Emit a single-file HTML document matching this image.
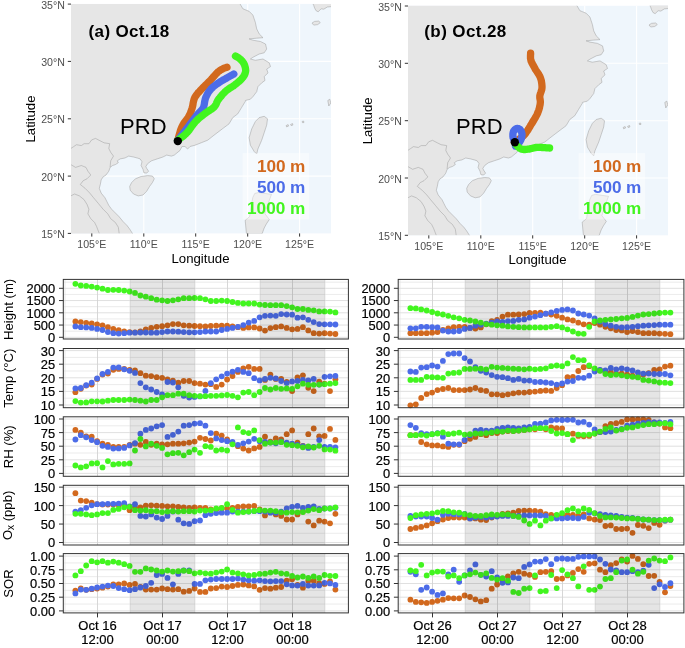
<!DOCTYPE html>
<html><head><meta charset="utf-8"><title>Figure</title>
<style>html,body{margin:0;padding:0;background:#fff}svg{display:block}</style></head>
<body>
<svg width="685" height="648" viewBox="0 0 685 648" font-family="'Liberation Sans', Arial, sans-serif">
<rect width="685" height="648" fill="#fff"/>
<g transform="translate(0.0,0.0)">
<clipPath id="ca"><rect x="71.0" y="3.9" width="260.0" height="229.5"/></clipPath>
<rect x="71.0" y="3.9" width="260.0" height="229.5" fill="#EFF6FC"/>
<g clip-path="url(#ca)">
<line x1="91.8" x2="91.8" y1="3.9" y2="233.4" stroke="#fff" stroke-width="1.1"/>
<line x1="143.8" x2="143.8" y1="3.9" y2="233.4" stroke="#fff" stroke-width="1.1"/>
<line x1="195.7" x2="195.7" y1="3.9" y2="233.4" stroke="#fff" stroke-width="1.1"/>
<line x1="247.7" x2="247.7" y1="3.9" y2="233.4" stroke="#fff" stroke-width="1.1"/>
<line x1="299.6" x2="299.6" y1="3.9" y2="233.4" stroke="#fff" stroke-width="1.1"/>
<line x1="71.0" x2="331.0" y1="176.1" y2="176.1" stroke="#fff" stroke-width="1.1"/>
<line x1="71.0" x2="331.0" y1="118.8" y2="118.8" stroke="#fff" stroke-width="1.1"/>
<line x1="71.0" x2="331.0" y1="61.4" y2="61.4" stroke="#fff" stroke-width="1.1"/>
<polygon points="66.0,-1.1 239.8,-1.1 239.8,3.5 242.9,8.8 249.1,11.3 252.9,15.1 255.4,22.6 256.7,28.9 259.2,33.9 263.0,37.7 256.7,38.2 249.1,38.9 252.9,40.2 260.5,41.5 265.5,44.0 266.7,49.0 264.2,52.8 259.2,54.0 252.9,57.3 250.4,59.0 255.4,60.3 263.0,59.0 269.2,62.8 270.5,66.6 266.7,69.1 268.0,72.9 264.2,76.6 265.0,80.4 261.7,82.9 257.9,86.7 256.7,91.7 252.9,96.7 250.4,99.2 245.4,100.5 245.4,101.3 241.6,107.5 237.8,113.8 232.8,117.6 229.0,123.9 224.0,127.6 219.0,131.4 214.0,135.2 207.7,140.2 201.4,142.7 195.1,145.2 190.1,146.5 187.6,149.0 185.0,146.5 181.9,146.6 180.0,150.4 174.3,155.1 171.4,156.1 166.7,155.1 162.9,157.0 157.2,158.9 151.5,160.8 147.7,163.6 145.8,166.5 146.7,168.4 148.6,171.2 146.7,173.1 143.9,172.8 143.0,169.3 141.1,165.5 142.0,161.7 140.1,158.9 137.3,158.0 133.5,157.0 128.7,156.1 124.9,158.0 120.2,158.9 117.3,160.8 118.3,162.7 115.4,164.6 112.6,165.5 110.1,167.4 108.8,171.2 106.0,175.0 103.1,176.9 101.2,179.8 100.3,184.5 99.3,188.3 101.2,193.1 105.0,197.8 106.9,201.6 108.8,205.4 111.6,209.2 115.4,213.0 119.2,216.8 123.0,221.5 126.8,225.3 129.7,229.1 132.5,233.5 132.5,238.4 66.0,238.4" fill="#E6E6E6" stroke="#9c9c9c" stroke-width="0.5" stroke-linejoin="round"/>
<polygon points="131.6,182.6 135.4,178.8 141.1,176.5 147.7,175.6 152.4,176.0 154.3,178.8 152.4,182.6 149.6,186.4 146.7,191.2 143.0,195.0 138.2,195.9 133.5,194.0 130.2,190.2 129.7,186.4" fill="#E6E6E6" stroke="#9c9c9c" stroke-width="0.5" stroke-linejoin="round"/>
<polygon points="259.2,117.6 264.2,116.3 267.5,118.8 266.7,125.1 264.2,132.7 261.7,140.2 257.9,149.0 256.7,154.0 254.2,151.5 250.4,145.2 249.1,137.7 251.7,128.9 255.4,121.4" fill="#E6E6E6" stroke="#9c9c9c" stroke-width="0.5" stroke-linejoin="round"/>
<polygon points="254.7,193.5 258.4,192.5 271.5,194.4 270.0,198.4 267.1,206.4 264.9,213.7 269.3,219.5 266.4,223.9 264.2,228.0 262.0,234.0 246.5,234.0 245.9,228.0 245.2,220.3 249.6,216.6 251.1,206.4 252.8,197.6" fill="#E6E6E6" stroke="#9c9c9c" stroke-width="0.5" stroke-linejoin="round"/>
<polygon points="312.0,23.1 314.5,21.4 318.7,21.1 320.3,22.6 317.7,24.6 313.7,25.1" fill="#E6E6E6" stroke="#9c9c9c" stroke-width="0.5" stroke-linejoin="round"/>
<polygon points="312.8,3.5 331.5,3.5 331.5,6.6 327.3,7.0 323.8,9.2 321.2,8.8 318.1,11.8 315.9,10.5 314.6,7.9 313.7,5.3" fill="#E6E6E6" stroke="#9c9c9c" stroke-width="0.5" stroke-linejoin="round"/>
<polygon points="327.8,100.5 329.8,99.2 330.8,103.0 328.8,106.0" fill="#E6E6E6" stroke="#9c9c9c" stroke-width="0.5" stroke-linejoin="round"/>
<polygon points="286.1,125.6 288.1,124.6 288.6,126.1 286.6,126.9" fill="#E6E6E6" stroke="#9c9c9c" stroke-width="0.5" stroke-linejoin="round"/>
<polygon points="290.6,124.4 292.6,123.6 292.9,125.1 291.1,125.6" fill="#E6E6E6" stroke="#9c9c9c" stroke-width="0.5" stroke-linejoin="round"/>
<polygon points="302.2,121.4 303.7,121.1 303.9,122.6 302.4,122.6" fill="#E6E6E6" stroke="#9c9c9c" stroke-width="0.5" stroke-linejoin="round"/>
<polyline points="110.1,167.1 110.7,160.8 113.5,156.1 110.7,152.3 108.8,148.5 109.7,143.7 104.1,142.8 100.3,140.9 95.5,138.4 91.7,139.9 88.9,143.7 84.1,143.7 81.3,145.6 76.5,144.7 73.7,146.6 70.8,148.5" fill="none" stroke="#9c9c9c" stroke-width="0.5"/>
<polyline points="70.8,164.6 75.6,167.4 81.3,165.5 86.0,167.4 87.9,171.2 90.8,175.0 87.0,178.8 83.2,180.7 80.3,184.5 85.1,188.3 89.8,193.1 93.6,197.8 98.4,203.5 103.1,209.2 107.8,213.9 110.7,218.7 115.4,222.5 118.3,227.2 119.2,233.5" fill="none" stroke="#9c9c9c" stroke-width="0.5"/>
<polyline points="70.8,195.9 74.6,194.0 79.4,195.9 84.1,199.7 87.0,204.4 88.9,209.2 87.9,213.9 90.8,218.7 94.6,222.5 96.5,226.3 99.3,233.5" fill="none" stroke="#9c9c9c" stroke-width="0.5"/>
<polyline points="177.7,140.5 178.0,139.4 178.4,137.9 178.9,136.1 179.4,134.2 180.0,132.2 180.6,130.1 181.3,128.3 182.0,126.6 182.8,125.1 183.6,123.7 184.5,122.4 185.5,121.2 186.4,119.9 187.3,118.7 188.1,117.6 188.8,116.4 189.4,115.3 189.9,114.2 190.4,113.2 190.8,112.2 191.1,111.1 191.5,110.1 191.8,109.0 192.2,107.9 192.5,106.7 192.8,105.4 193.0,104.1 193.2,102.8 193.5,101.5 193.8,100.2 194.2,98.9 194.7,97.7 195.3,96.6 196.1,95.5 196.9,94.4 197.7,93.3 198.6,92.3 199.6,91.3 200.5,90.3 201.5,89.2 202.5,88.1 203.5,87.1 204.6,86.0 205.7,84.9 206.8,83.9 207.9,82.8 209.0,81.8 210.0,80.7 211.0,79.6 212.0,78.5 213.0,77.3 214.0,76.2 215.0,75.1 215.9,74.0 216.8,73.1 217.6,72.3 218.4,71.6 219.1,71.1 219.7,70.6 220.4,70.2 221.0,69.8 221.5,69.5 222.1,69.2 222.7,68.9 223.3,68.6 223.9,68.3 224.6,68.1 225.2,67.8 225.7,67.6 226.2,67.5 226.7,67.3 227.0,67.2" fill="none" stroke="#D2691E" stroke-width="7.3" stroke-linecap="round" stroke-linejoin="round"/>
<polyline points="177.7,140.5 178.4,139.6 179.3,138.3 180.5,136.9 181.7,135.2 183.0,133.5 184.4,131.7 185.7,130.0 187.0,128.3 188.3,126.6 189.6,124.8 191.0,123.0 192.4,121.2 193.7,119.4 195.0,117.7 196.2,116.1 197.3,114.7 198.3,113.5 199.2,112.6 200.0,111.8 200.7,111.1 201.4,110.4 202.1,109.7 202.7,108.9 203.2,107.9 203.7,106.8 204.0,105.5 204.3,104.2 204.5,102.9 204.7,101.5 205.0,100.2 205.3,98.9 205.7,97.7 206.2,96.5 206.7,95.4 207.3,94.3 207.9,93.2 208.5,92.2 209.2,91.2 210.0,90.2 210.8,89.2 211.7,88.3 212.7,87.3 213.7,86.4 214.8,85.6 216.0,84.7 217.1,83.9 218.2,83.2 219.3,82.4 220.4,81.7 221.5,81.0 222.6,80.3 223.7,79.7 224.8,79.1 225.9,78.5 226.9,77.9 227.8,77.4 228.7,76.9 229.6,76.4 230.5,75.9 231.3,75.4 232.1,75.0 232.8,74.6 233.4,74.3 233.8,74.0" fill="none" stroke="#4C6CE8" stroke-width="7.3" stroke-linecap="round" stroke-linejoin="round"/>
<polyline points="177.7,140.5 178.4,139.9 179.4,139.1 180.6,138.2 181.9,137.2 183.2,136.1 184.6,134.9 185.9,133.7 187.1,132.5 188.2,131.3 189.3,129.9 190.3,128.5 191.3,127.0 192.3,125.6 193.4,124.1 194.5,122.8 195.6,121.5 196.8,120.3 198.0,119.1 199.3,118.0 200.7,116.9 202.0,115.9 203.2,114.9 204.5,113.9 205.7,113.0 206.9,112.1 208.0,111.4 209.2,110.6 210.3,109.9 211.4,109.3 212.4,108.6 213.3,107.8 214.2,107.0 214.9,106.1 215.5,105.2 216.0,104.3 216.4,103.4 216.8,102.4 217.3,101.4 217.8,100.4 218.5,99.4 219.3,98.4 220.1,97.3 221.1,96.2 222.0,95.0 223.0,93.9 224.1,92.9 225.1,91.8 226.1,90.9 227.1,90.0 228.2,89.3 229.3,88.5 230.3,87.8 231.4,87.2 232.5,86.5 233.6,85.8 234.6,85.0 235.6,84.2 236.7,83.4 237.7,82.5 238.7,81.7 239.7,80.8 240.6,79.9 241.5,79.1 242.2,78.2 242.9,77.4 243.5,76.5 244.0,75.7 244.5,74.9 244.9,74.0 245.2,73.2 245.4,72.3 245.6,71.4 245.7,70.5 245.6,69.5 245.5,68.5 245.3,67.5 245.0,66.5 244.7,65.5 244.4,64.6 244.0,63.8 243.6,63.0 243.1,62.3 242.6,61.6 242.0,60.9 241.4,60.3 240.8,59.7 240.3,59.2 239.7,58.7 239.1,58.2 238.5,57.8 237.9,57.4 237.3,57.1 236.8,56.8 236.3,56.5 235.8,56.3 235.5,56.1" fill="none" stroke="#42F51F" stroke-width="7.3" stroke-linecap="round" stroke-linejoin="round"/>
<circle cx="177.8" cy="141.1" r="4.2" fill="#000"/>
<rect x="242.6" y="153.1" width="66.6" height="66.4" fill="#fff" fill-opacity="0.45"/>
</g>
<line x1="67.8" x2="71.0" y1="233.4" y2="233.4" stroke="#333" stroke-width="1"/>
<text x="64.8" y="238.0" text-anchor="end" font-size="10.6" fill="#4D4D4D">15°N</text>
<line x1="67.8" x2="71.0" y1="176.1" y2="176.1" stroke="#333" stroke-width="1"/>
<text x="64.8" y="180.7" text-anchor="end" font-size="10.6" fill="#4D4D4D">20°N</text>
<line x1="67.8" x2="71.0" y1="118.8" y2="118.8" stroke="#333" stroke-width="1"/>
<text x="64.8" y="123.3" text-anchor="end" font-size="10.6" fill="#4D4D4D">25°N</text>
<line x1="67.8" x2="71.0" y1="61.4" y2="61.4" stroke="#333" stroke-width="1"/>
<text x="64.8" y="66.0" text-anchor="end" font-size="10.6" fill="#4D4D4D">30°N</text>
<line x1="67.8" x2="71.0" y1="4.1" y2="4.1" stroke="#333" stroke-width="1"/>
<text x="64.8" y="8.7" text-anchor="end" font-size="10.6" fill="#4D4D4D">35°N</text>
<line x1="91.8" x2="91.8" y1="233.4" y2="236.6" stroke="#333" stroke-width="1"/>
<text x="91.8" y="248.4" text-anchor="middle" font-size="10.6" fill="#4D4D4D">105°E</text>
<line x1="143.8" x2="143.8" y1="233.4" y2="236.6" stroke="#333" stroke-width="1"/>
<text x="143.8" y="248.4" text-anchor="middle" font-size="10.6" fill="#4D4D4D">110°E</text>
<line x1="195.7" x2="195.7" y1="233.4" y2="236.6" stroke="#333" stroke-width="1"/>
<text x="195.7" y="248.4" text-anchor="middle" font-size="10.6" fill="#4D4D4D">115°E</text>
<line x1="247.7" x2="247.7" y1="233.4" y2="236.6" stroke="#333" stroke-width="1"/>
<text x="247.7" y="248.4" text-anchor="middle" font-size="10.6" fill="#4D4D4D">120°E</text>
<line x1="299.6" x2="299.6" y1="233.4" y2="236.6" stroke="#333" stroke-width="1"/>
<text x="299.6" y="248.4" text-anchor="middle" font-size="10.6" fill="#4D4D4D">125°E</text>
<text x="200.5" y="262.9" text-anchor="middle" font-size="13.2" fill="#000">Longitude</text>
<text transform="translate(35.3,119) rotate(-90)" text-anchor="middle" font-size="13.2" fill="#000">Latitude</text>
<text x="88.6" y="36.6" font-size="17" font-weight="bold" fill="#000" textLength="80.6" lengthAdjust="spacing">(a) Oct.18</text>
<text x="120.1" y="133.8" font-size="22" fill="#000">PRD</text>
<text x="256.9" y="171.9" font-size="17.2" font-weight="bold" fill="#D2691E" textLength="48.5" lengthAdjust="spacing">100 m</text>
<text x="256.9" y="193.0" font-size="17.2" font-weight="bold" fill="#4C6CE8" textLength="48.5" lengthAdjust="spacing">500 m</text>
<text x="247.0" y="214.1" font-size="17.2" font-weight="bold" fill="#42F51F" textLength="58.4" lengthAdjust="spacing">1000 m</text>
</g>
<g transform="translate(337.0,1.9)">
<clipPath id="cb"><rect x="71.0" y="3.9" width="260.0" height="229.5"/></clipPath>
<rect x="71.0" y="3.9" width="260.0" height="229.5" fill="#EFF6FC"/>
<g clip-path="url(#cb)">
<line x1="91.8" x2="91.8" y1="3.9" y2="233.4" stroke="#fff" stroke-width="1.1"/>
<line x1="143.8" x2="143.8" y1="3.9" y2="233.4" stroke="#fff" stroke-width="1.1"/>
<line x1="195.7" x2="195.7" y1="3.9" y2="233.4" stroke="#fff" stroke-width="1.1"/>
<line x1="247.7" x2="247.7" y1="3.9" y2="233.4" stroke="#fff" stroke-width="1.1"/>
<line x1="299.6" x2="299.6" y1="3.9" y2="233.4" stroke="#fff" stroke-width="1.1"/>
<line x1="71.0" x2="331.0" y1="176.1" y2="176.1" stroke="#fff" stroke-width="1.1"/>
<line x1="71.0" x2="331.0" y1="118.8" y2="118.8" stroke="#fff" stroke-width="1.1"/>
<line x1="71.0" x2="331.0" y1="61.4" y2="61.4" stroke="#fff" stroke-width="1.1"/>
<polygon points="66.0,-1.1 239.8,-1.1 239.8,3.5 242.9,8.8 249.1,11.3 252.9,15.1 255.4,22.6 256.7,28.9 259.2,33.9 263.0,37.7 256.7,38.2 249.1,38.9 252.9,40.2 260.5,41.5 265.5,44.0 266.7,49.0 264.2,52.8 259.2,54.0 252.9,57.3 250.4,59.0 255.4,60.3 263.0,59.0 269.2,62.8 270.5,66.6 266.7,69.1 268.0,72.9 264.2,76.6 265.0,80.4 261.7,82.9 257.9,86.7 256.7,91.7 252.9,96.7 250.4,99.2 245.4,100.5 245.4,101.3 241.6,107.5 237.8,113.8 232.8,117.6 229.0,123.9 224.0,127.6 219.0,131.4 214.0,135.2 207.7,140.2 201.4,142.7 195.1,145.2 190.1,146.5 187.6,149.0 185.0,146.5 181.9,146.6 180.0,150.4 174.3,155.1 171.4,156.1 166.7,155.1 162.9,157.0 157.2,158.9 151.5,160.8 147.7,163.6 145.8,166.5 146.7,168.4 148.6,171.2 146.7,173.1 143.9,172.8 143.0,169.3 141.1,165.5 142.0,161.7 140.1,158.9 137.3,158.0 133.5,157.0 128.7,156.1 124.9,158.0 120.2,158.9 117.3,160.8 118.3,162.7 115.4,164.6 112.6,165.5 110.1,167.4 108.8,171.2 106.0,175.0 103.1,176.9 101.2,179.8 100.3,184.5 99.3,188.3 101.2,193.1 105.0,197.8 106.9,201.6 108.8,205.4 111.6,209.2 115.4,213.0 119.2,216.8 123.0,221.5 126.8,225.3 129.7,229.1 132.5,233.5 132.5,238.4 66.0,238.4" fill="#E6E6E6" stroke="#9c9c9c" stroke-width="0.5" stroke-linejoin="round"/>
<polygon points="131.6,182.6 135.4,178.8 141.1,176.5 147.7,175.6 152.4,176.0 154.3,178.8 152.4,182.6 149.6,186.4 146.7,191.2 143.0,195.0 138.2,195.9 133.5,194.0 130.2,190.2 129.7,186.4" fill="#E6E6E6" stroke="#9c9c9c" stroke-width="0.5" stroke-linejoin="round"/>
<polygon points="259.2,117.6 264.2,116.3 267.5,118.8 266.7,125.1 264.2,132.7 261.7,140.2 257.9,149.0 256.7,154.0 254.2,151.5 250.4,145.2 249.1,137.7 251.7,128.9 255.4,121.4" fill="#E6E6E6" stroke="#9c9c9c" stroke-width="0.5" stroke-linejoin="round"/>
<polygon points="254.7,193.5 258.4,192.5 271.5,194.4 270.0,198.4 267.1,206.4 264.9,213.7 269.3,219.5 266.4,223.9 264.2,228.0 262.0,234.0 246.5,234.0 245.9,228.0 245.2,220.3 249.6,216.6 251.1,206.4 252.8,197.6" fill="#E6E6E6" stroke="#9c9c9c" stroke-width="0.5" stroke-linejoin="round"/>
<polygon points="312.0,23.1 314.5,21.4 318.7,21.1 320.3,22.6 317.7,24.6 313.7,25.1" fill="#E6E6E6" stroke="#9c9c9c" stroke-width="0.5" stroke-linejoin="round"/>
<polygon points="312.8,3.5 331.5,3.5 331.5,6.6 327.3,7.0 323.8,9.2 321.2,8.8 318.1,11.8 315.9,10.5 314.6,7.9 313.7,5.3" fill="#E6E6E6" stroke="#9c9c9c" stroke-width="0.5" stroke-linejoin="round"/>
<polygon points="327.8,100.5 329.8,99.2 330.8,103.0 328.8,106.0" fill="#E6E6E6" stroke="#9c9c9c" stroke-width="0.5" stroke-linejoin="round"/>
<polygon points="286.1,125.6 288.1,124.6 288.6,126.1 286.6,126.9" fill="#E6E6E6" stroke="#9c9c9c" stroke-width="0.5" stroke-linejoin="round"/>
<polygon points="290.6,124.4 292.6,123.6 292.9,125.1 291.1,125.6" fill="#E6E6E6" stroke="#9c9c9c" stroke-width="0.5" stroke-linejoin="round"/>
<polygon points="302.2,121.4 303.7,121.1 303.9,122.6 302.4,122.6" fill="#E6E6E6" stroke="#9c9c9c" stroke-width="0.5" stroke-linejoin="round"/>
<polyline points="110.1,167.1 110.7,160.8 113.5,156.1 110.7,152.3 108.8,148.5 109.7,143.7 104.1,142.8 100.3,140.9 95.5,138.4 91.7,139.9 88.9,143.7 84.1,143.7 81.3,145.6 76.5,144.7 73.7,146.6 70.8,148.5" fill="none" stroke="#9c9c9c" stroke-width="0.5"/>
<polyline points="70.8,164.6 75.6,167.4 81.3,165.5 86.0,167.4 87.9,171.2 90.8,175.0 87.0,178.8 83.2,180.7 80.3,184.5 85.1,188.3 89.8,193.1 93.6,197.8 98.4,203.5 103.1,209.2 107.8,213.9 110.7,218.7 115.4,222.5 118.3,227.2 119.2,233.5" fill="none" stroke="#9c9c9c" stroke-width="0.5"/>
<polyline points="70.8,195.9 74.6,194.0 79.4,195.9 84.1,199.7 87.0,204.4 88.9,209.2 87.9,213.9 90.8,218.7 94.6,222.5 96.5,226.3 99.3,233.5" fill="none" stroke="#9c9c9c" stroke-width="0.5"/>
<polyline points="177.8,140.0 178.5,139.5 179.5,138.9 180.7,138.1 182.0,137.2 183.4,136.3 184.7,135.3 186.0,134.3 187.1,133.2 188.1,132.1 189.0,130.9 189.8,129.7 190.7,128.4 191.5,127.1 192.3,125.7 193.1,124.4 193.9,123.0 194.8,121.6 195.7,120.1 196.6,118.6 197.6,117.0 198.5,115.5 199.3,114.0 200.1,112.5 200.7,111.1 201.2,109.7 201.7,108.4 202.1,107.0 202.5,105.7 202.7,104.4 203.0,103.2 203.2,102.0 203.3,100.9 203.4,99.9 203.3,99.0 203.2,98.2 203.1,97.4 202.9,96.6 202.8,95.8 202.8,95.0 202.8,94.1 203.0,93.1 203.3,92.1 203.6,91.1 204.0,90.1 204.3,89.0 204.7,87.9 204.9,86.8 205.0,85.6 205.0,84.4 204.9,83.1 204.8,81.9 204.6,80.5 204.4,79.2 204.1,77.9 203.7,76.7 203.3,75.5 202.8,74.4 202.2,73.3 201.6,72.2 200.9,71.2 200.2,70.1 199.5,69.1 198.8,68.1 198.2,67.0 197.6,65.9 197.0,64.8 196.4,63.8 195.8,62.7 195.2,61.6 194.7,60.5 194.2,59.5 193.9,58.5 193.7,57.5 193.5,56.4 193.5,55.4 193.5,54.4 193.5,53.4 193.6,52.6 193.6,51.8 193.6,51.3" fill="none" stroke="#D2691E" stroke-width="7.3" stroke-linecap="round" stroke-linejoin="round"/>
<polyline points="178.0,140.6 177.8,140.2 177.6,139.6 177.3,138.9 177.0,138.2 176.7,137.4 176.4,136.6 176.1,135.8 176.0,135.1 175.9,134.4 175.9,133.7 175.9,132.9 175.9,132.2 176.0,131.5 176.1,130.8 176.3,130.2 176.5,129.6 176.8,129.1 177.1,128.6 177.4,128.2 177.8,127.8 178.2,127.4 178.7,127.1 179.1,126.9 179.5,126.7 179.9,126.6 180.4,126.6 180.8,126.6 181.3,126.7 181.8,126.8 182.2,127.0 182.6,127.3 183.0,127.6 183.3,128.0 183.7,128.4 184.0,129.0 184.3,129.6 184.5,130.2 184.7,130.8 184.9,131.5 185.0,132.1 185.0,132.7 185.0,133.4 184.9,134.1 184.8,134.8 184.7,135.6 184.5,136.3 184.2,137.0 184.0,137.6 183.7,138.2 183.4,138.9 183.0,139.5 182.6,140.1 182.2,140.6 181.8,141.2 181.4,141.7 181.0,142.1 180.6,142.5 180.3,142.8 179.9,143.1 179.6,143.4 179.2,143.6 178.9,143.8 178.7,144.0 178.5,144.1" fill="none" stroke="#4C6CE8" stroke-width="7.3" stroke-linecap="round" stroke-linejoin="round"/>
<polyline points="178.0,140.6 178.1,140.8 178.1,141.0 178.2,141.3 178.3,141.6 178.5,141.9 178.7,142.3 178.9,142.7 179.3,143.1 179.8,143.6 180.3,144.1 180.9,144.7 181.5,145.3 182.2,145.9 183.0,146.4 183.7,146.9 184.5,147.2 185.3,147.4 186.1,147.5 187.0,147.6 187.9,147.6 188.8,147.5 189.7,147.4 190.7,147.3 191.6,147.2 192.6,147.1 193.6,146.8 194.6,146.6 195.7,146.3 196.7,146.1 197.7,145.8 198.7,145.6 199.7,145.5 200.6,145.4 201.6,145.4 202.5,145.4 203.3,145.5 204.2,145.5 205.1,145.6 205.9,145.7 206.7,145.7 207.5,145.7 208.4,145.8 209.3,145.9 210.1,145.9 210.9,146.0 211.6,146.0 212.2,146.1 212.6,146.1" fill="none" stroke="#42F51F" stroke-width="7.3" stroke-linecap="round" stroke-linejoin="round"/>
<circle cx="177.8" cy="140.3" r="4.2" fill="#000"/>
<rect x="241.6" y="151.2" width="66.6" height="66.4" fill="#fff" fill-opacity="0.45"/>
</g>
<line x1="67.8" x2="71.0" y1="233.4" y2="233.4" stroke="#333" stroke-width="1"/>
<text x="64.8" y="238.0" text-anchor="end" font-size="10.6" fill="#4D4D4D">15°N</text>
<line x1="67.8" x2="71.0" y1="176.1" y2="176.1" stroke="#333" stroke-width="1"/>
<text x="64.8" y="180.7" text-anchor="end" font-size="10.6" fill="#4D4D4D">20°N</text>
<line x1="67.8" x2="71.0" y1="118.8" y2="118.8" stroke="#333" stroke-width="1"/>
<text x="64.8" y="123.3" text-anchor="end" font-size="10.6" fill="#4D4D4D">25°N</text>
<line x1="67.8" x2="71.0" y1="61.4" y2="61.4" stroke="#333" stroke-width="1"/>
<text x="64.8" y="66.0" text-anchor="end" font-size="10.6" fill="#4D4D4D">30°N</text>
<line x1="67.8" x2="71.0" y1="4.1" y2="4.1" stroke="#333" stroke-width="1"/>
<text x="64.8" y="8.7" text-anchor="end" font-size="10.6" fill="#4D4D4D">35°N</text>
<line x1="91.8" x2="91.8" y1="233.4" y2="236.6" stroke="#333" stroke-width="1"/>
<text x="91.8" y="247.8" text-anchor="middle" font-size="10.6" fill="#4D4D4D">105°E</text>
<line x1="143.8" x2="143.8" y1="233.4" y2="236.6" stroke="#333" stroke-width="1"/>
<text x="143.8" y="247.8" text-anchor="middle" font-size="10.6" fill="#4D4D4D">110°E</text>
<line x1="195.7" x2="195.7" y1="233.4" y2="236.6" stroke="#333" stroke-width="1"/>
<text x="195.7" y="247.8" text-anchor="middle" font-size="10.6" fill="#4D4D4D">115°E</text>
<line x1="247.7" x2="247.7" y1="233.4" y2="236.6" stroke="#333" stroke-width="1"/>
<text x="247.7" y="247.8" text-anchor="middle" font-size="10.6" fill="#4D4D4D">120°E</text>
<line x1="299.6" x2="299.6" y1="233.4" y2="236.6" stroke="#333" stroke-width="1"/>
<text x="299.6" y="247.8" text-anchor="middle" font-size="10.6" fill="#4D4D4D">125°E</text>
<text x="200.5" y="262.2" text-anchor="middle" font-size="13.2" fill="#000">Longitude</text>
<text transform="translate(35.3,119) rotate(-90)" text-anchor="middle" font-size="13.2" fill="#000">Latitude</text>
<text x="87.3" y="34.7" font-size="17" font-weight="bold" fill="#000" textLength="82.0" lengthAdjust="spacing">(b) Oct.28</text>
<text x="119.1" y="131.9" font-size="22" fill="#000">PRD</text>
<text x="255.9" y="170.0" font-size="17.2" font-weight="bold" fill="#D2691E" textLength="48.5" lengthAdjust="spacing">100 m</text>
<text x="255.9" y="191.1" font-size="17.2" font-weight="bold" fill="#4C6CE8" textLength="48.5" lengthAdjust="spacing">500 m</text>
<text x="246.0" y="212.2" font-size="17.2" font-weight="bold" fill="#42F51F" textLength="58.4" lengthAdjust="spacing">1000 m</text>
</g>
<rect x="63.3" y="279.4" width="285.1" height="59.6" fill="#fff"/>
<line x1="63.3" x2="348.4" y1="331.18" y2="331.18" stroke="#E2E2E2" stroke-width="0.7"/>
<line x1="63.3" x2="348.4" y1="318.93" y2="318.93" stroke="#E2E2E2" stroke-width="0.7"/>
<line x1="63.3" x2="348.4" y1="306.68" y2="306.68" stroke="#E2E2E2" stroke-width="0.7"/>
<line x1="63.3" x2="348.4" y1="294.43" y2="294.43" stroke="#E2E2E2" stroke-width="0.7"/>
<line x1="63.3" x2="348.4" y1="282.18" y2="282.18" stroke="#E2E2E2" stroke-width="0.7"/>
<line x1="63.3" x2="348.4" y1="337.30" y2="337.30" stroke="#DCDCDC" stroke-width="0.9"/>
<line x1="63.3" x2="348.4" y1="325.05" y2="325.05" stroke="#DCDCDC" stroke-width="0.9"/>
<line x1="63.3" x2="348.4" y1="312.80" y2="312.80" stroke="#DCDCDC" stroke-width="0.9"/>
<line x1="63.3" x2="348.4" y1="300.55" y2="300.55" stroke="#DCDCDC" stroke-width="0.9"/>
<line x1="63.3" x2="348.4" y1="288.30" y2="288.30" stroke="#DCDCDC" stroke-width="0.9"/>
<line x1="65.0" x2="65.0" y1="279.4" y2="339.0" stroke="#E0E0E0" stroke-width="0.7"/>
<line x1="130.0" x2="130.0" y1="279.4" y2="339.0" stroke="#E0E0E0" stroke-width="0.7"/>
<line x1="195.0" x2="195.0" y1="279.4" y2="339.0" stroke="#E0E0E0" stroke-width="0.7"/>
<line x1="260.0" x2="260.0" y1="279.4" y2="339.0" stroke="#E0E0E0" stroke-width="0.7"/>
<line x1="325.0" x2="325.0" y1="279.4" y2="339.0" stroke="#E0E0E0" stroke-width="0.7"/>
<line x1="97.5" x2="97.5" y1="279.4" y2="339.0" stroke="#D2D2D2" stroke-width="0.9"/>
<line x1="162.5" x2="162.5" y1="279.4" y2="339.0" stroke="#D2D2D2" stroke-width="0.9"/>
<line x1="227.5" x2="227.5" y1="279.4" y2="339.0" stroke="#D2D2D2" stroke-width="0.9"/>
<line x1="292.5" x2="292.5" y1="279.4" y2="339.0" stroke="#D2D2D2" stroke-width="0.9"/>
<g fill="#D2691E"><circle cx="75.4" cy="321.5" r="2.9"/><circle cx="80.8" cy="322.1" r="2.9"/><circle cx="86.2" cy="322.8" r="2.9"/><circle cx="91.7" cy="323.4" r="2.9"/><circle cx="97.1" cy="324.3" r="2.9"/><circle cx="102.5" cy="325.3" r="2.9"/><circle cx="107.9" cy="327.2" r="2.9"/><circle cx="113.3" cy="328.9" r="2.9"/><circle cx="118.7" cy="330.2" r="2.9"/><circle cx="124.2" cy="331.5" r="2.9"/><circle cx="129.6" cy="332.1" r="2.9"/><circle cx="135.0" cy="332.3" r="2.9"/><circle cx="140.4" cy="331.5" r="2.9"/><circle cx="145.8" cy="329.3" r="2.9"/><circle cx="151.2" cy="327.9" r="2.9"/><circle cx="156.7" cy="326.8" r="2.9"/><circle cx="162.1" cy="326.2" r="2.9"/><circle cx="167.5" cy="325.3" r="2.9"/><circle cx="172.9" cy="324.1" r="2.9"/><circle cx="178.3" cy="324.1" r="2.9"/><circle cx="183.7" cy="325.3" r="2.9"/><circle cx="189.2" cy="325.7" r="2.9"/><circle cx="194.6" cy="326.0" r="2.9"/><circle cx="200.0" cy="326.2" r="2.9"/><circle cx="205.4" cy="326.4" r="2.9"/><circle cx="210.8" cy="326.0" r="2.9"/><circle cx="216.2" cy="325.7" r="2.9"/><circle cx="221.7" cy="325.7" r="2.9"/><circle cx="227.1" cy="325.7" r="2.9"/><circle cx="232.5" cy="326.4" r="2.9"/><circle cx="237.9" cy="327.2" r="2.9"/><circle cx="243.3" cy="327.9" r="2.9"/><circle cx="248.7" cy="327.4" r="2.9"/><circle cx="254.2" cy="327.4" r="2.9"/><circle cx="259.6" cy="328.5" r="2.9"/><circle cx="265.0" cy="330.6" r="2.9"/><circle cx="270.4" cy="328.1" r="2.9"/><circle cx="275.8" cy="327.2" r="2.9"/><circle cx="281.2" cy="326.4" r="2.9"/><circle cx="286.7" cy="327.9" r="2.9"/><circle cx="292.1" cy="329.3" r="2.9"/><circle cx="297.5" cy="328.9" r="2.9"/><circle cx="302.9" cy="327.2" r="2.9"/><circle cx="308.3" cy="330.4" r="2.9"/><circle cx="313.7" cy="333.2" r="2.9"/><circle cx="319.2" cy="333.6" r="2.9"/><circle cx="324.6" cy="333.2" r="2.9"/><circle cx="330.0" cy="333.6" r="2.9"/><circle cx="335.4" cy="334.0" r="2.9"/></g>
<g fill="#4C6CE8"><circle cx="75.4" cy="326.4" r="2.9"/><circle cx="80.8" cy="327.2" r="2.9"/><circle cx="86.2" cy="327.4" r="2.9"/><circle cx="91.7" cy="327.9" r="2.9"/><circle cx="97.1" cy="328.9" r="2.9"/><circle cx="102.5" cy="330.0" r="2.9"/><circle cx="107.9" cy="332.1" r="2.9"/><circle cx="113.3" cy="333.2" r="2.9"/><circle cx="118.7" cy="333.6" r="2.9"/><circle cx="124.2" cy="333.2" r="2.9"/><circle cx="129.6" cy="332.7" r="2.9"/><circle cx="135.0" cy="332.7" r="2.9"/><circle cx="140.4" cy="332.5" r="2.9"/><circle cx="145.8" cy="332.5" r="2.9"/><circle cx="151.2" cy="332.7" r="2.9"/><circle cx="156.7" cy="332.7" r="2.9"/><circle cx="162.1" cy="332.1" r="2.9"/><circle cx="167.5" cy="331.5" r="2.9"/><circle cx="172.9" cy="331.5" r="2.9"/><circle cx="178.3" cy="331.7" r="2.9"/><circle cx="183.7" cy="332.1" r="2.9"/><circle cx="189.2" cy="332.3" r="2.9"/><circle cx="194.6" cy="332.3" r="2.9"/><circle cx="200.0" cy="332.1" r="2.9"/><circle cx="205.4" cy="331.5" r="2.9"/><circle cx="210.8" cy="331.5" r="2.9"/><circle cx="216.2" cy="331.5" r="2.9"/><circle cx="221.7" cy="330.0" r="2.9"/><circle cx="227.1" cy="328.9" r="2.9"/><circle cx="232.5" cy="327.9" r="2.9"/><circle cx="237.9" cy="326.8" r="2.9"/><circle cx="243.3" cy="325.1" r="2.9"/><circle cx="248.7" cy="322.6" r="2.9"/><circle cx="254.2" cy="320.9" r="2.9"/><circle cx="259.6" cy="317.3" r="2.9"/><circle cx="265.0" cy="315.8" r="2.9"/><circle cx="270.4" cy="315.6" r="2.9"/><circle cx="275.8" cy="315.8" r="2.9"/><circle cx="281.2" cy="314.1" r="2.9"/><circle cx="286.7" cy="314.5" r="2.9"/><circle cx="292.1" cy="314.7" r="2.9"/><circle cx="297.5" cy="317.7" r="2.9"/><circle cx="302.9" cy="317.3" r="2.9"/><circle cx="308.3" cy="319.8" r="2.9"/><circle cx="313.7" cy="322.1" r="2.9"/><circle cx="319.2" cy="324.1" r="2.9"/><circle cx="324.6" cy="324.3" r="2.9"/><circle cx="330.0" cy="324.3" r="2.9"/><circle cx="335.4" cy="324.5" r="2.9"/></g>
<g fill="#42F51F"><circle cx="75.4" cy="283.8" r="2.9"/><circle cx="80.8" cy="285.5" r="2.9"/><circle cx="86.2" cy="285.9" r="2.9"/><circle cx="91.7" cy="286.6" r="2.9"/><circle cx="97.1" cy="287.6" r="2.9"/><circle cx="102.5" cy="288.7" r="2.9"/><circle cx="107.9" cy="290.0" r="2.9"/><circle cx="113.3" cy="289.8" r="2.9"/><circle cx="118.7" cy="290.0" r="2.9"/><circle cx="124.2" cy="290.6" r="2.9"/><circle cx="129.6" cy="291.5" r="2.9"/><circle cx="135.0" cy="292.9" r="2.9"/><circle cx="140.4" cy="295.5" r="2.9"/><circle cx="145.8" cy="296.7" r="2.9"/><circle cx="151.2" cy="298.2" r="2.9"/><circle cx="156.7" cy="299.7" r="2.9"/><circle cx="162.1" cy="300.3" r="2.9"/><circle cx="167.5" cy="301.0" r="2.9"/><circle cx="172.9" cy="300.3" r="2.9"/><circle cx="178.3" cy="299.3" r="2.9"/><circle cx="183.7" cy="298.2" r="2.9"/><circle cx="189.2" cy="298.2" r="2.9"/><circle cx="194.6" cy="298.0" r="2.9"/><circle cx="200.0" cy="298.2" r="2.9"/><circle cx="205.4" cy="299.3" r="2.9"/><circle cx="210.8" cy="301.0" r="2.9"/><circle cx="216.2" cy="301.0" r="2.9"/><circle cx="221.7" cy="300.6" r="2.9"/><circle cx="227.1" cy="301.0" r="2.9"/><circle cx="232.5" cy="302.0" r="2.9"/><circle cx="237.9" cy="302.9" r="2.9"/><circle cx="243.3" cy="303.5" r="2.9"/><circle cx="248.7" cy="303.5" r="2.9"/><circle cx="254.2" cy="303.5" r="2.9"/><circle cx="259.6" cy="304.6" r="2.9"/><circle cx="265.0" cy="305.0" r="2.9"/><circle cx="270.4" cy="305.2" r="2.9"/><circle cx="275.8" cy="305.2" r="2.9"/><circle cx="281.2" cy="305.2" r="2.9"/><circle cx="286.7" cy="306.1" r="2.9"/><circle cx="292.1" cy="307.3" r="2.9"/><circle cx="297.5" cy="309.0" r="2.9"/><circle cx="302.9" cy="309.0" r="2.9"/><circle cx="308.3" cy="309.9" r="2.9"/><circle cx="313.7" cy="310.3" r="2.9"/><circle cx="319.2" cy="311.4" r="2.9"/><circle cx="324.6" cy="311.4" r="2.9"/><circle cx="330.0" cy="311.6" r="2.9"/><circle cx="335.4" cy="312.4" r="2.9"/></g>
<rect x="130.0" y="279.4" width="65" height="59.6" fill="#000" fill-opacity="0.1"/>
<rect x="260.0" y="279.4" width="65" height="59.6" fill="#000" fill-opacity="0.1"/>
<rect x="63.3" y="279.4" width="285.1" height="59.6" fill="none" stroke="#333" stroke-width="1"/>
<line x1="59.0" x2="63.3" y1="337.30" y2="337.30" stroke="#333" stroke-width="1"/>
<text x="55.2" y="342.2" text-anchor="end" font-size="12.9" fill="#000" stroke="#000" stroke-width="0.2">0</text>
<line x1="59.0" x2="63.3" y1="325.05" y2="325.05" stroke="#333" stroke-width="1"/>
<text x="55.2" y="329.9" text-anchor="end" font-size="12.9" fill="#000" stroke="#000" stroke-width="0.2">500</text>
<line x1="59.0" x2="63.3" y1="312.80" y2="312.80" stroke="#333" stroke-width="1"/>
<text x="55.2" y="317.7" text-anchor="end" font-size="12.9" fill="#000" stroke="#000" stroke-width="0.2">1000</text>
<line x1="59.0" x2="63.3" y1="300.55" y2="300.55" stroke="#333" stroke-width="1"/>
<text x="55.2" y="305.4" text-anchor="end" font-size="12.9" fill="#000" stroke="#000" stroke-width="0.2">1500</text>
<line x1="59.0" x2="63.3" y1="288.30" y2="288.30" stroke="#333" stroke-width="1"/>
<text x="55.2" y="293.2" text-anchor="end" font-size="12.9" fill="#000" stroke="#000" stroke-width="0.2">2000</text>
<text transform="translate(13.2,309.4) rotate(-90)" text-anchor="middle" font-size="13.1" fill="#000">Height (m)</text>
<rect x="63.3" y="348.5" width="285.1" height="59.2" fill="#fff"/>
<line x1="63.3" x2="348.4" y1="398.20" y2="398.20" stroke="#E2E2E2" stroke-width="0.7"/>
<line x1="63.3" x2="348.4" y1="384.60" y2="384.60" stroke="#E2E2E2" stroke-width="0.7"/>
<line x1="63.3" x2="348.4" y1="371.00" y2="371.00" stroke="#E2E2E2" stroke-width="0.7"/>
<line x1="63.3" x2="348.4" y1="357.40" y2="357.40" stroke="#E2E2E2" stroke-width="0.7"/>
<line x1="63.3" x2="348.4" y1="405.00" y2="405.00" stroke="#DCDCDC" stroke-width="0.9"/>
<line x1="63.3" x2="348.4" y1="391.40" y2="391.40" stroke="#DCDCDC" stroke-width="0.9"/>
<line x1="63.3" x2="348.4" y1="377.80" y2="377.80" stroke="#DCDCDC" stroke-width="0.9"/>
<line x1="63.3" x2="348.4" y1="364.20" y2="364.20" stroke="#DCDCDC" stroke-width="0.9"/>
<line x1="63.3" x2="348.4" y1="350.60" y2="350.60" stroke="#DCDCDC" stroke-width="0.9"/>
<line x1="65.0" x2="65.0" y1="348.5" y2="407.7" stroke="#E0E0E0" stroke-width="0.7"/>
<line x1="130.0" x2="130.0" y1="348.5" y2="407.7" stroke="#E0E0E0" stroke-width="0.7"/>
<line x1="195.0" x2="195.0" y1="348.5" y2="407.7" stroke="#E0E0E0" stroke-width="0.7"/>
<line x1="260.0" x2="260.0" y1="348.5" y2="407.7" stroke="#E0E0E0" stroke-width="0.7"/>
<line x1="325.0" x2="325.0" y1="348.5" y2="407.7" stroke="#E0E0E0" stroke-width="0.7"/>
<line x1="97.5" x2="97.5" y1="348.5" y2="407.7" stroke="#D2D2D2" stroke-width="0.9"/>
<line x1="162.5" x2="162.5" y1="348.5" y2="407.7" stroke="#D2D2D2" stroke-width="0.9"/>
<line x1="227.5" x2="227.5" y1="348.5" y2="407.7" stroke="#D2D2D2" stroke-width="0.9"/>
<line x1="292.5" x2="292.5" y1="348.5" y2="407.7" stroke="#D2D2D2" stroke-width="0.9"/>
<g fill="#D2691E"><circle cx="75.4" cy="392.2" r="2.9"/><circle cx="80.8" cy="388.8" r="2.9"/><circle cx="86.2" cy="385.6" r="2.9"/><circle cx="91.7" cy="384.6" r="2.9"/><circle cx="97.1" cy="378.9" r="2.9"/><circle cx="102.5" cy="374.6" r="2.9"/><circle cx="107.9" cy="373.6" r="2.9"/><circle cx="113.3" cy="369.8" r="2.9"/><circle cx="118.7" cy="368.9" r="2.9"/><circle cx="124.2" cy="368.9" r="2.9"/><circle cx="129.6" cy="370.0" r="2.9"/><circle cx="135.0" cy="370.4" r="2.9"/><circle cx="140.4" cy="373.2" r="2.9"/><circle cx="145.8" cy="375.7" r="2.9"/><circle cx="151.2" cy="376.1" r="2.9"/><circle cx="156.7" cy="377.2" r="2.9"/><circle cx="162.1" cy="377.8" r="2.9"/><circle cx="167.5" cy="379.5" r="2.9"/><circle cx="172.9" cy="380.6" r="2.9"/><circle cx="178.3" cy="382.7" r="2.9"/><circle cx="183.7" cy="381.0" r="2.9"/><circle cx="189.2" cy="381.0" r="2.9"/><circle cx="194.6" cy="383.1" r="2.9"/><circle cx="200.0" cy="383.7" r="2.9"/><circle cx="205.4" cy="384.6" r="2.9"/><circle cx="210.8" cy="384.2" r="2.9"/><circle cx="216.2" cy="386.9" r="2.9"/><circle cx="221.7" cy="384.6" r="2.9"/><circle cx="227.1" cy="379.5" r="2.9"/><circle cx="232.5" cy="376.1" r="2.9"/><circle cx="237.9" cy="371.9" r="2.9"/><circle cx="243.3" cy="368.3" r="2.9"/><circle cx="248.7" cy="366.8" r="2.9"/><circle cx="254.2" cy="368.9" r="2.9"/><circle cx="259.6" cy="368.9" r="2.9"/><circle cx="265.0" cy="379.9" r="2.9"/><circle cx="270.4" cy="374.6" r="2.9"/><circle cx="275.8" cy="378.9" r="2.9"/><circle cx="281.2" cy="378.9" r="2.9"/><circle cx="286.7" cy="382.0" r="2.9"/><circle cx="292.1" cy="391.1" r="2.9"/><circle cx="297.5" cy="377.4" r="2.9"/><circle cx="302.9" cy="375.3" r="2.9"/><circle cx="308.3" cy="387.8" r="2.9"/><circle cx="313.7" cy="391.1" r="2.9"/><circle cx="319.2" cy="381.6" r="2.9"/><circle cx="324.6" cy="383.7" r="2.9"/><circle cx="330.0" cy="391.1" r="2.9"/><circle cx="335.4" cy="379.3" r="2.9"/></g>
<g fill="#4C6CE8"><circle cx="75.4" cy="388.4" r="2.9"/><circle cx="80.8" cy="388.0" r="2.9"/><circle cx="86.2" cy="385.2" r="2.9"/><circle cx="91.7" cy="382.7" r="2.9"/><circle cx="97.1" cy="378.4" r="2.9"/><circle cx="102.5" cy="374.0" r="2.9"/><circle cx="107.9" cy="371.9" r="2.9"/><circle cx="113.3" cy="367.6" r="2.9"/><circle cx="118.7" cy="367.4" r="2.9"/><circle cx="124.2" cy="369.3" r="2.9"/><circle cx="129.6" cy="370.8" r="2.9"/><circle cx="135.0" cy="372.9" r="2.9"/><circle cx="140.4" cy="383.1" r="2.9"/><circle cx="145.8" cy="387.3" r="2.9"/><circle cx="151.2" cy="389.5" r="2.9"/><circle cx="156.7" cy="392.0" r="2.9"/><circle cx="162.1" cy="394.3" r="2.9"/><circle cx="167.5" cy="382.0" r="2.9"/><circle cx="172.9" cy="382.5" r="2.9"/><circle cx="178.3" cy="387.3" r="2.9"/><circle cx="183.7" cy="395.8" r="2.9"/><circle cx="189.2" cy="397.5" r="2.9"/><circle cx="194.6" cy="396.9" r="2.9"/><circle cx="200.0" cy="396.4" r="2.9"/><circle cx="205.4" cy="390.9" r="2.9"/><circle cx="210.8" cy="383.1" r="2.9"/><circle cx="216.2" cy="379.3" r="2.9"/><circle cx="221.7" cy="376.3" r="2.9"/><circle cx="227.1" cy="373.6" r="2.9"/><circle cx="232.5" cy="371.7" r="2.9"/><circle cx="237.9" cy="369.8" r="2.9"/><circle cx="243.3" cy="371.9" r="2.9"/><circle cx="248.7" cy="373.2" r="2.9"/><circle cx="254.2" cy="378.2" r="2.9"/><circle cx="259.6" cy="380.4" r="2.9"/><circle cx="265.0" cy="378.9" r="2.9"/><circle cx="270.4" cy="377.8" r="2.9"/><circle cx="275.8" cy="378.4" r="2.9"/><circle cx="281.2" cy="381.0" r="2.9"/><circle cx="286.7" cy="383.1" r="2.9"/><circle cx="292.1" cy="381.4" r="2.9"/><circle cx="297.5" cy="381.0" r="2.9"/><circle cx="302.9" cy="379.9" r="2.9"/><circle cx="308.3" cy="380.4" r="2.9"/><circle cx="313.7" cy="378.9" r="2.9"/><circle cx="319.2" cy="384.6" r="2.9"/><circle cx="324.6" cy="376.8" r="2.9"/><circle cx="330.0" cy="376.3" r="2.9"/><circle cx="335.4" cy="375.9" r="2.9"/></g>
<g fill="#42F51F"><circle cx="75.4" cy="401.1" r="2.9"/><circle cx="80.8" cy="402.6" r="2.9"/><circle cx="86.2" cy="402.4" r="2.9"/><circle cx="91.7" cy="401.3" r="2.9"/><circle cx="97.1" cy="401.3" r="2.9"/><circle cx="102.5" cy="401.5" r="2.9"/><circle cx="107.9" cy="400.7" r="2.9"/><circle cx="113.3" cy="400.0" r="2.9"/><circle cx="118.7" cy="400.0" r="2.9"/><circle cx="124.2" cy="400.0" r="2.9"/><circle cx="129.6" cy="399.6" r="2.9"/><circle cx="135.0" cy="400.0" r="2.9"/><circle cx="140.4" cy="400.7" r="2.9"/><circle cx="145.8" cy="401.5" r="2.9"/><circle cx="151.2" cy="400.0" r="2.9"/><circle cx="156.7" cy="400.0" r="2.9"/><circle cx="162.1" cy="397.3" r="2.9"/><circle cx="167.5" cy="395.2" r="2.9"/><circle cx="172.9" cy="395.2" r="2.9"/><circle cx="178.3" cy="393.7" r="2.9"/><circle cx="183.7" cy="393.7" r="2.9"/><circle cx="189.2" cy="395.2" r="2.9"/><circle cx="194.6" cy="395.8" r="2.9"/><circle cx="200.0" cy="396.2" r="2.9"/><circle cx="205.4" cy="396.2" r="2.9"/><circle cx="210.8" cy="395.8" r="2.9"/><circle cx="216.2" cy="395.8" r="2.9"/><circle cx="221.7" cy="395.4" r="2.9"/><circle cx="227.1" cy="395.0" r="2.9"/><circle cx="232.5" cy="395.8" r="2.9"/><circle cx="237.9" cy="397.3" r="2.9"/><circle cx="243.3" cy="392.6" r="2.9"/><circle cx="248.7" cy="392.0" r="2.9"/><circle cx="254.2" cy="395.2" r="2.9"/><circle cx="259.6" cy="392.0" r="2.9"/><circle cx="265.0" cy="388.0" r="2.9"/><circle cx="270.4" cy="389.5" r="2.9"/><circle cx="275.8" cy="388.0" r="2.9"/><circle cx="281.2" cy="388.8" r="2.9"/><circle cx="286.7" cy="388.4" r="2.9"/><circle cx="292.1" cy="388.8" r="2.9"/><circle cx="297.5" cy="386.3" r="2.9"/><circle cx="302.9" cy="383.7" r="2.9"/><circle cx="308.3" cy="384.8" r="2.9"/><circle cx="313.7" cy="384.8" r="2.9"/><circle cx="319.2" cy="384.6" r="2.9"/><circle cx="324.6" cy="384.2" r="2.9"/><circle cx="330.0" cy="383.7" r="2.9"/><circle cx="335.4" cy="383.1" r="2.9"/></g>
<rect x="130.0" y="348.5" width="65" height="59.2" fill="#000" fill-opacity="0.1"/>
<rect x="260.0" y="348.5" width="65" height="59.2" fill="#000" fill-opacity="0.1"/>
<rect x="63.3" y="348.5" width="285.1" height="59.2" fill="none" stroke="#333" stroke-width="1"/>
<line x1="59.0" x2="63.3" y1="405.00" y2="405.00" stroke="#333" stroke-width="1"/>
<text x="55.2" y="409.9" text-anchor="end" font-size="12.9" fill="#000" stroke="#000" stroke-width="0.2">10</text>
<line x1="59.0" x2="63.3" y1="391.40" y2="391.40" stroke="#333" stroke-width="1"/>
<text x="55.2" y="396.3" text-anchor="end" font-size="12.9" fill="#000" stroke="#000" stroke-width="0.2">15</text>
<line x1="59.0" x2="63.3" y1="377.80" y2="377.80" stroke="#333" stroke-width="1"/>
<text x="55.2" y="382.7" text-anchor="end" font-size="12.9" fill="#000" stroke="#000" stroke-width="0.2">20</text>
<line x1="59.0" x2="63.3" y1="364.20" y2="364.20" stroke="#333" stroke-width="1"/>
<text x="55.2" y="369.1" text-anchor="end" font-size="12.9" fill="#000" stroke="#000" stroke-width="0.2">25</text>
<line x1="59.0" x2="63.3" y1="350.60" y2="350.60" stroke="#333" stroke-width="1"/>
<text x="55.2" y="355.5" text-anchor="end" font-size="12.9" fill="#000" stroke="#000" stroke-width="0.2">30</text>
<text transform="translate(13.2,378.3) rotate(-90)" text-anchor="middle" font-size="13.1" fill="#000">Temp (°C)</text>
<rect x="63.3" y="416.8" width="285.1" height="59.5" fill="#fff"/>
<line x1="63.3" x2="348.4" y1="466.60" y2="466.60" stroke="#E2E2E2" stroke-width="0.7"/>
<line x1="63.3" x2="348.4" y1="453.00" y2="453.00" stroke="#E2E2E2" stroke-width="0.7"/>
<line x1="63.3" x2="348.4" y1="439.40" y2="439.40" stroke="#E2E2E2" stroke-width="0.7"/>
<line x1="63.3" x2="348.4" y1="425.80" y2="425.80" stroke="#E2E2E2" stroke-width="0.7"/>
<line x1="63.3" x2="348.4" y1="473.40" y2="473.40" stroke="#DCDCDC" stroke-width="0.9"/>
<line x1="63.3" x2="348.4" y1="459.80" y2="459.80" stroke="#DCDCDC" stroke-width="0.9"/>
<line x1="63.3" x2="348.4" y1="446.20" y2="446.20" stroke="#DCDCDC" stroke-width="0.9"/>
<line x1="63.3" x2="348.4" y1="432.60" y2="432.60" stroke="#DCDCDC" stroke-width="0.9"/>
<line x1="63.3" x2="348.4" y1="419.00" y2="419.00" stroke="#DCDCDC" stroke-width="0.9"/>
<line x1="65.0" x2="65.0" y1="416.8" y2="476.3" stroke="#E0E0E0" stroke-width="0.7"/>
<line x1="130.0" x2="130.0" y1="416.8" y2="476.3" stroke="#E0E0E0" stroke-width="0.7"/>
<line x1="195.0" x2="195.0" y1="416.8" y2="476.3" stroke="#E0E0E0" stroke-width="0.7"/>
<line x1="260.0" x2="260.0" y1="416.8" y2="476.3" stroke="#E0E0E0" stroke-width="0.7"/>
<line x1="325.0" x2="325.0" y1="416.8" y2="476.3" stroke="#E0E0E0" stroke-width="0.7"/>
<line x1="97.5" x2="97.5" y1="416.8" y2="476.3" stroke="#D2D2D2" stroke-width="0.9"/>
<line x1="162.5" x2="162.5" y1="416.8" y2="476.3" stroke="#D2D2D2" stroke-width="0.9"/>
<line x1="227.5" x2="227.5" y1="416.8" y2="476.3" stroke="#D2D2D2" stroke-width="0.9"/>
<line x1="292.5" x2="292.5" y1="416.8" y2="476.3" stroke="#D2D2D2" stroke-width="0.9"/>
<g fill="#D2691E"><circle cx="75.4" cy="429.9" r="2.9"/><circle cx="80.8" cy="432.7" r="2.9"/><circle cx="86.2" cy="436.3" r="2.9"/><circle cx="91.7" cy="436.7" r="2.9"/><circle cx="97.1" cy="441.2" r="2.9"/><circle cx="102.5" cy="443.7" r="2.9"/><circle cx="107.9" cy="444.8" r="2.9"/><circle cx="113.3" cy="446.9" r="2.9"/><circle cx="118.7" cy="446.9" r="2.9"/><circle cx="124.2" cy="446.9" r="2.9"/><circle cx="129.6" cy="444.8" r="2.9"/><circle cx="135.0" cy="443.7" r="2.9"/><circle cx="140.4" cy="444.8" r="2.9"/><circle cx="145.8" cy="442.0" r="2.9"/><circle cx="151.2" cy="444.8" r="2.9"/><circle cx="156.7" cy="443.7" r="2.9"/><circle cx="162.1" cy="444.3" r="2.9"/><circle cx="167.5" cy="444.3" r="2.9"/><circle cx="172.9" cy="443.7" r="2.9"/><circle cx="178.3" cy="443.7" r="2.9"/><circle cx="183.7" cy="443.3" r="2.9"/><circle cx="189.2" cy="442.6" r="2.9"/><circle cx="194.6" cy="441.6" r="2.9"/><circle cx="200.0" cy="437.8" r="2.9"/><circle cx="205.4" cy="439.0" r="2.9"/><circle cx="210.8" cy="440.5" r="2.9"/><circle cx="216.2" cy="433.7" r="2.9"/><circle cx="221.7" cy="435.6" r="2.9"/><circle cx="227.1" cy="439.5" r="2.9"/><circle cx="232.5" cy="443.3" r="2.9"/><circle cx="237.9" cy="446.2" r="2.9"/><circle cx="243.3" cy="448.6" r="2.9"/><circle cx="248.7" cy="450.5" r="2.9"/><circle cx="254.2" cy="448.4" r="2.9"/><circle cx="259.6" cy="446.9" r="2.9"/><circle cx="265.0" cy="436.7" r="2.9"/><circle cx="270.4" cy="441.6" r="2.9"/><circle cx="275.8" cy="438.4" r="2.9"/><circle cx="281.2" cy="439.5" r="2.9"/><circle cx="286.7" cy="434.2" r="2.9"/><circle cx="292.1" cy="430.4" r="2.9"/><circle cx="297.5" cy="442.6" r="2.9"/><circle cx="302.9" cy="445.8" r="2.9"/><circle cx="308.3" cy="434.2" r="2.9"/><circle cx="313.7" cy="428.5" r="2.9"/><circle cx="319.2" cy="436.3" r="2.9"/><circle cx="324.6" cy="435.9" r="2.9"/><circle cx="330.0" cy="428.9" r="2.9"/><circle cx="335.4" cy="439.9" r="2.9"/></g>
<g fill="#4C6CE8"><circle cx="75.4" cy="439.5" r="2.9"/><circle cx="80.8" cy="435.2" r="2.9"/><circle cx="86.2" cy="437.3" r="2.9"/><circle cx="91.7" cy="440.1" r="2.9"/><circle cx="97.1" cy="442.2" r="2.9"/><circle cx="102.5" cy="445.8" r="2.9"/><circle cx="107.9" cy="446.9" r="2.9"/><circle cx="113.3" cy="448.6" r="2.9"/><circle cx="118.7" cy="448.4" r="2.9"/><circle cx="124.2" cy="447.9" r="2.9"/><circle cx="129.6" cy="445.4" r="2.9"/><circle cx="135.0" cy="443.1" r="2.9"/><circle cx="140.4" cy="433.7" r="2.9"/><circle cx="145.8" cy="429.9" r="2.9"/><circle cx="151.2" cy="428.5" r="2.9"/><circle cx="156.7" cy="426.3" r="2.9"/><circle cx="162.1" cy="425.1" r="2.9"/><circle cx="167.5" cy="436.9" r="2.9"/><circle cx="172.9" cy="434.8" r="2.9"/><circle cx="178.3" cy="431.6" r="2.9"/><circle cx="183.7" cy="425.7" r="2.9"/><circle cx="189.2" cy="425.1" r="2.9"/><circle cx="194.6" cy="423.6" r="2.9"/><circle cx="200.0" cy="423.2" r="2.9"/><circle cx="205.4" cy="425.7" r="2.9"/><circle cx="210.8" cy="433.1" r="2.9"/><circle cx="216.2" cy="438.4" r="2.9"/><circle cx="221.7" cy="440.1" r="2.9"/><circle cx="227.1" cy="441.2" r="2.9"/><circle cx="232.5" cy="442.0" r="2.9"/><circle cx="237.9" cy="444.8" r="2.9"/><circle cx="243.3" cy="443.3" r="2.9"/><circle cx="248.7" cy="441.6" r="2.9"/><circle cx="254.2" cy="438.8" r="2.9"/><circle cx="259.6" cy="441.2" r="2.9"/><circle cx="265.0" cy="442.0" r="2.9"/><circle cx="270.4" cy="442.6" r="2.9"/><circle cx="275.8" cy="443.3" r="2.9"/><circle cx="281.2" cy="441.6" r="2.9"/><circle cx="286.7" cy="442.6" r="2.9"/><circle cx="292.1" cy="443.7" r="2.9"/><circle cx="297.5" cy="444.8" r="2.9"/><circle cx="302.9" cy="446.2" r="2.9"/><circle cx="308.3" cy="447.9" r="2.9"/><circle cx="313.7" cy="446.9" r="2.9"/><circle cx="319.2" cy="440.1" r="2.9"/><circle cx="324.6" cy="446.9" r="2.9"/><circle cx="330.0" cy="446.9" r="2.9"/><circle cx="335.4" cy="447.3" r="2.9"/></g>
<g fill="#42F51F"><circle cx="75.4" cy="465.5" r="2.9"/><circle cx="80.8" cy="467.4" r="2.9"/><circle cx="86.2" cy="466.3" r="2.9"/><circle cx="91.7" cy="463.4" r="2.9"/><circle cx="97.1" cy="463.2" r="2.9"/><circle cx="102.5" cy="467.4" r="2.9"/><circle cx="107.9" cy="461.1" r="2.9"/><circle cx="113.3" cy="464.4" r="2.9"/><circle cx="118.7" cy="463.8" r="2.9"/><circle cx="124.2" cy="463.8" r="2.9"/><circle cx="129.6" cy="463.4" r="2.9"/><circle cx="135.0" cy="450.5" r="2.9"/><circle cx="140.4" cy="439.0" r="2.9"/><circle cx="145.8" cy="446.4" r="2.9"/><circle cx="151.2" cy="443.7" r="2.9"/><circle cx="156.7" cy="445.8" r="2.9"/><circle cx="162.1" cy="447.9" r="2.9"/><circle cx="167.5" cy="454.3" r="2.9"/><circle cx="172.9" cy="453.2" r="2.9"/><circle cx="178.3" cy="452.8" r="2.9"/><circle cx="183.7" cy="455.3" r="2.9"/><circle cx="189.2" cy="452.2" r="2.9"/><circle cx="194.6" cy="449.6" r="2.9"/><circle cx="200.0" cy="452.8" r="2.9"/><circle cx="205.4" cy="446.2" r="2.9"/><circle cx="210.8" cy="446.9" r="2.9"/><circle cx="216.2" cy="450.5" r="2.9"/><circle cx="221.7" cy="449.6" r="2.9"/><circle cx="227.1" cy="450.5" r="2.9"/><circle cx="232.5" cy="444.3" r="2.9"/><circle cx="237.9" cy="427.4" r="2.9"/><circle cx="243.3" cy="432.1" r="2.9"/><circle cx="248.7" cy="433.1" r="2.9"/><circle cx="254.2" cy="430.4" r="2.9"/><circle cx="259.6" cy="440.1" r="2.9"/><circle cx="265.0" cy="443.7" r="2.9"/><circle cx="270.4" cy="442.6" r="2.9"/><circle cx="275.8" cy="442.6" r="2.9"/><circle cx="281.2" cy="442.2" r="2.9"/><circle cx="286.7" cy="444.8" r="2.9"/><circle cx="292.1" cy="445.2" r="2.9"/><circle cx="297.5" cy="445.8" r="2.9"/><circle cx="302.9" cy="447.3" r="2.9"/><circle cx="308.3" cy="446.4" r="2.9"/><circle cx="313.7" cy="447.5" r="2.9"/><circle cx="319.2" cy="445.8" r="2.9"/><circle cx="324.6" cy="449.4" r="2.9"/><circle cx="330.0" cy="449.6" r="2.9"/><circle cx="335.4" cy="450.7" r="2.9"/></g>
<rect x="130.0" y="416.8" width="65" height="59.5" fill="#000" fill-opacity="0.1"/>
<rect x="260.0" y="416.8" width="65" height="59.5" fill="#000" fill-opacity="0.1"/>
<rect x="63.3" y="416.8" width="285.1" height="59.5" fill="none" stroke="#333" stroke-width="1"/>
<line x1="59.0" x2="63.3" y1="473.40" y2="473.40" stroke="#333" stroke-width="1"/>
<text x="55.2" y="478.3" text-anchor="end" font-size="12.9" fill="#000" stroke="#000" stroke-width="0.2">0</text>
<line x1="59.0" x2="63.3" y1="459.80" y2="459.80" stroke="#333" stroke-width="1"/>
<text x="55.2" y="464.7" text-anchor="end" font-size="12.9" fill="#000" stroke="#000" stroke-width="0.2">25</text>
<line x1="59.0" x2="63.3" y1="446.20" y2="446.20" stroke="#333" stroke-width="1"/>
<text x="55.2" y="451.1" text-anchor="end" font-size="12.9" fill="#000" stroke="#000" stroke-width="0.2">50</text>
<line x1="59.0" x2="63.3" y1="432.60" y2="432.60" stroke="#333" stroke-width="1"/>
<text x="55.2" y="437.5" text-anchor="end" font-size="12.9" fill="#000" stroke="#000" stroke-width="0.2">75</text>
<line x1="59.0" x2="63.3" y1="419.00" y2="419.00" stroke="#333" stroke-width="1"/>
<text x="55.2" y="423.9" text-anchor="end" font-size="12.9" fill="#000" stroke="#000" stroke-width="0.2">100</text>
<text transform="translate(13.2,446.8) rotate(-90)" text-anchor="middle" font-size="13.1" fill="#000">RH (%)</text>
<rect x="63.3" y="485.3" width="285.1" height="59.7" fill="#fff"/>
<line x1="63.3" x2="348.4" y1="533.27" y2="533.27" stroke="#E2E2E2" stroke-width="0.7"/>
<line x1="63.3" x2="348.4" y1="514.83" y2="514.83" stroke="#E2E2E2" stroke-width="0.7"/>
<line x1="63.3" x2="348.4" y1="496.38" y2="496.38" stroke="#E2E2E2" stroke-width="0.7"/>
<line x1="63.3" x2="348.4" y1="542.50" y2="542.50" stroke="#DCDCDC" stroke-width="0.9"/>
<line x1="63.3" x2="348.4" y1="524.05" y2="524.05" stroke="#DCDCDC" stroke-width="0.9"/>
<line x1="63.3" x2="348.4" y1="505.60" y2="505.60" stroke="#DCDCDC" stroke-width="0.9"/>
<line x1="63.3" x2="348.4" y1="487.15" y2="487.15" stroke="#DCDCDC" stroke-width="0.9"/>
<line x1="65.0" x2="65.0" y1="485.3" y2="545.0" stroke="#E0E0E0" stroke-width="0.7"/>
<line x1="130.0" x2="130.0" y1="485.3" y2="545.0" stroke="#E0E0E0" stroke-width="0.7"/>
<line x1="195.0" x2="195.0" y1="485.3" y2="545.0" stroke="#E0E0E0" stroke-width="0.7"/>
<line x1="260.0" x2="260.0" y1="485.3" y2="545.0" stroke="#E0E0E0" stroke-width="0.7"/>
<line x1="325.0" x2="325.0" y1="485.3" y2="545.0" stroke="#E0E0E0" stroke-width="0.7"/>
<line x1="97.5" x2="97.5" y1="485.3" y2="545.0" stroke="#D2D2D2" stroke-width="0.9"/>
<line x1="162.5" x2="162.5" y1="485.3" y2="545.0" stroke="#D2D2D2" stroke-width="0.9"/>
<line x1="227.5" x2="227.5" y1="485.3" y2="545.0" stroke="#D2D2D2" stroke-width="0.9"/>
<line x1="292.5" x2="292.5" y1="485.3" y2="545.0" stroke="#D2D2D2" stroke-width="0.9"/>
<g fill="#D2691E"><circle cx="75.4" cy="493.2" r="2.9"/><circle cx="80.8" cy="500.6" r="2.9"/><circle cx="86.2" cy="501.1" r="2.9"/><circle cx="91.7" cy="502.7" r="2.9"/><circle cx="97.1" cy="504.2" r="2.9"/><circle cx="102.5" cy="504.6" r="2.9"/><circle cx="107.9" cy="504.6" r="2.9"/><circle cx="113.3" cy="504.6" r="2.9"/><circle cx="118.7" cy="504.9" r="2.9"/><circle cx="124.2" cy="504.9" r="2.9"/><circle cx="129.6" cy="510.2" r="2.9"/><circle cx="135.0" cy="507.4" r="2.9"/><circle cx="140.4" cy="507.4" r="2.9"/><circle cx="145.8" cy="505.7" r="2.9"/><circle cx="151.2" cy="505.3" r="2.9"/><circle cx="156.7" cy="505.7" r="2.9"/><circle cx="162.1" cy="505.9" r="2.9"/><circle cx="167.5" cy="506.3" r="2.9"/><circle cx="172.9" cy="506.3" r="2.9"/><circle cx="178.3" cy="506.8" r="2.9"/><circle cx="183.7" cy="507.4" r="2.9"/><circle cx="189.2" cy="507.8" r="2.9"/><circle cx="194.6" cy="507.4" r="2.9"/><circle cx="200.0" cy="507.8" r="2.9"/><circle cx="205.4" cy="507.8" r="2.9"/><circle cx="210.8" cy="509.5" r="2.9"/><circle cx="216.2" cy="509.5" r="2.9"/><circle cx="221.7" cy="508.5" r="2.9"/><circle cx="227.1" cy="508.5" r="2.9"/><circle cx="232.5" cy="507.8" r="2.9"/><circle cx="237.9" cy="507.0" r="2.9"/><circle cx="243.3" cy="506.3" r="2.9"/><circle cx="248.7" cy="506.3" r="2.9"/><circle cx="254.2" cy="505.9" r="2.9"/><circle cx="259.6" cy="509.5" r="2.9"/><circle cx="265.0" cy="515.4" r="2.9"/><circle cx="270.4" cy="511.6" r="2.9"/><circle cx="275.8" cy="514.4" r="2.9"/><circle cx="281.2" cy="515.9" r="2.9"/><circle cx="286.7" cy="519.5" r="2.9"/><circle cx="292.1" cy="519.5" r="2.9"/><circle cx="297.5" cy="514.4" r="2.9"/><circle cx="302.9" cy="511.6" r="2.9"/><circle cx="308.3" cy="521.6" r="2.9"/><circle cx="313.7" cy="525.4" r="2.9"/><circle cx="319.2" cy="520.7" r="2.9"/><circle cx="324.6" cy="521.6" r="2.9"/><circle cx="330.0" cy="523.3" r="2.9"/><circle cx="335.4" cy="513.8" r="2.9"/></g>
<g fill="#4C6CE8"><circle cx="75.4" cy="511.6" r="2.9"/><circle cx="80.8" cy="510.2" r="2.9"/><circle cx="86.2" cy="507.8" r="2.9"/><circle cx="91.7" cy="505.3" r="2.9"/><circle cx="97.1" cy="504.2" r="2.9"/><circle cx="102.5" cy="504.2" r="2.9"/><circle cx="107.9" cy="503.8" r="2.9"/><circle cx="113.3" cy="503.8" r="2.9"/><circle cx="118.7" cy="503.6" r="2.9"/><circle cx="124.2" cy="503.2" r="2.9"/><circle cx="129.6" cy="506.3" r="2.9"/><circle cx="135.0" cy="504.2" r="2.9"/><circle cx="140.4" cy="515.9" r="2.9"/><circle cx="145.8" cy="516.5" r="2.9"/><circle cx="151.2" cy="514.4" r="2.9"/><circle cx="156.7" cy="517.6" r="2.9"/><circle cx="162.1" cy="519.0" r="2.9"/><circle cx="167.5" cy="515.9" r="2.9"/><circle cx="172.9" cy="511.6" r="2.9"/><circle cx="178.3" cy="519.7" r="2.9"/><circle cx="183.7" cy="523.3" r="2.9"/><circle cx="189.2" cy="523.9" r="2.9"/><circle cx="194.6" cy="521.2" r="2.9"/><circle cx="200.0" cy="520.5" r="2.9"/><circle cx="205.4" cy="515.2" r="2.9"/><circle cx="210.8" cy="513.8" r="2.9"/><circle cx="216.2" cy="513.1" r="2.9"/><circle cx="221.7" cy="512.7" r="2.9"/><circle cx="227.1" cy="512.7" r="2.9"/><circle cx="232.5" cy="511.6" r="2.9"/><circle cx="237.9" cy="511.6" r="2.9"/><circle cx="243.3" cy="511.6" r="2.9"/><circle cx="248.7" cy="511.6" r="2.9"/><circle cx="254.2" cy="511.2" r="2.9"/><circle cx="259.6" cy="511.2" r="2.9"/><circle cx="265.0" cy="511.6" r="2.9"/><circle cx="270.4" cy="512.7" r="2.9"/><circle cx="275.8" cy="512.7" r="2.9"/><circle cx="281.2" cy="511.6" r="2.9"/><circle cx="286.7" cy="508.5" r="2.9"/><circle cx="292.1" cy="506.8" r="2.9"/><circle cx="297.5" cy="505.9" r="2.9"/><circle cx="302.9" cy="508.0" r="2.9"/><circle cx="308.3" cy="507.0" r="2.9"/><circle cx="313.7" cy="506.3" r="2.9"/><circle cx="319.2" cy="508.9" r="2.9"/><circle cx="324.6" cy="508.5" r="2.9"/><circle cx="330.0" cy="508.5" r="2.9"/><circle cx="335.4" cy="507.8" r="2.9"/></g>
<g fill="#42F51F"><circle cx="75.4" cy="513.8" r="2.9"/><circle cx="80.8" cy="513.8" r="2.9"/><circle cx="86.2" cy="514.4" r="2.9"/><circle cx="91.7" cy="515.2" r="2.9"/><circle cx="97.1" cy="514.4" r="2.9"/><circle cx="102.5" cy="513.1" r="2.9"/><circle cx="107.9" cy="513.1" r="2.9"/><circle cx="113.3" cy="509.9" r="2.9"/><circle cx="118.7" cy="508.9" r="2.9"/><circle cx="124.2" cy="507.4" r="2.9"/><circle cx="129.6" cy="506.8" r="2.9"/><circle cx="135.0" cy="510.2" r="2.9"/><circle cx="140.4" cy="510.6" r="2.9"/><circle cx="145.8" cy="510.2" r="2.9"/><circle cx="151.2" cy="511.2" r="2.9"/><circle cx="156.7" cy="511.2" r="2.9"/><circle cx="162.1" cy="512.1" r="2.9"/><circle cx="167.5" cy="511.6" r="2.9"/><circle cx="172.9" cy="511.2" r="2.9"/><circle cx="178.3" cy="511.6" r="2.9"/><circle cx="183.7" cy="511.2" r="2.9"/><circle cx="189.2" cy="511.2" r="2.9"/><circle cx="194.6" cy="511.6" r="2.9"/><circle cx="200.0" cy="510.6" r="2.9"/><circle cx="205.4" cy="510.6" r="2.9"/><circle cx="210.8" cy="510.2" r="2.9"/><circle cx="216.2" cy="508.5" r="2.9"/><circle cx="221.7" cy="507.8" r="2.9"/><circle cx="227.1" cy="504.2" r="2.9"/><circle cx="232.5" cy="509.9" r="2.9"/><circle cx="237.9" cy="512.7" r="2.9"/><circle cx="243.3" cy="512.1" r="2.9"/><circle cx="248.7" cy="511.6" r="2.9"/><circle cx="254.2" cy="511.0" r="2.9"/><circle cx="259.6" cy="510.2" r="2.9"/><circle cx="265.0" cy="510.6" r="2.9"/><circle cx="270.4" cy="510.6" r="2.9"/><circle cx="275.8" cy="511.2" r="2.9"/><circle cx="281.2" cy="512.3" r="2.9"/><circle cx="286.7" cy="512.7" r="2.9"/><circle cx="292.1" cy="512.1" r="2.9"/><circle cx="297.5" cy="512.3" r="2.9"/><circle cx="302.9" cy="512.1" r="2.9"/><circle cx="308.3" cy="510.6" r="2.9"/><circle cx="313.7" cy="509.1" r="2.9"/><circle cx="319.2" cy="510.2" r="2.9"/><circle cx="324.6" cy="508.5" r="2.9"/><circle cx="330.0" cy="508.5" r="2.9"/><circle cx="335.4" cy="507.4" r="2.9"/></g>
<rect x="130.0" y="485.3" width="65" height="59.7" fill="#000" fill-opacity="0.1"/>
<rect x="260.0" y="485.3" width="65" height="59.7" fill="#000" fill-opacity="0.1"/>
<rect x="63.3" y="485.3" width="285.1" height="59.7" fill="none" stroke="#333" stroke-width="1"/>
<line x1="59.0" x2="63.3" y1="542.50" y2="542.50" stroke="#333" stroke-width="1"/>
<text x="55.2" y="547.4" text-anchor="end" font-size="12.9" fill="#000" stroke="#000" stroke-width="0.2">0</text>
<line x1="59.0" x2="63.3" y1="524.05" y2="524.05" stroke="#333" stroke-width="1"/>
<text x="55.2" y="528.9" text-anchor="end" font-size="12.9" fill="#000" stroke="#000" stroke-width="0.2">50</text>
<line x1="59.0" x2="63.3" y1="505.60" y2="505.60" stroke="#333" stroke-width="1"/>
<text x="55.2" y="510.5" text-anchor="end" font-size="12.9" fill="#000" stroke="#000" stroke-width="0.2">100</text>
<line x1="59.0" x2="63.3" y1="487.15" y2="487.15" stroke="#333" stroke-width="1"/>
<text x="55.2" y="492.0" text-anchor="end" font-size="12.9" fill="#000" stroke="#000" stroke-width="0.2">150</text>
<text transform="translate(11.6,515.4) rotate(-90)" text-anchor="middle" font-size="13.1" fill="#000">O<tspan font-size="10" dy="2.8">x</tspan><tspan dy="-2.8"> (ppb)</tspan></text>
<rect x="63.3" y="553.6" width="285.1" height="59.3" fill="#fff"/>
<line x1="63.3" x2="348.4" y1="604.05" y2="604.05" stroke="#E2E2E2" stroke-width="0.7"/>
<line x1="63.3" x2="348.4" y1="590.35" y2="590.35" stroke="#E2E2E2" stroke-width="0.7"/>
<line x1="63.3" x2="348.4" y1="576.65" y2="576.65" stroke="#E2E2E2" stroke-width="0.7"/>
<line x1="63.3" x2="348.4" y1="562.95" y2="562.95" stroke="#E2E2E2" stroke-width="0.7"/>
<line x1="63.3" x2="348.4" y1="610.90" y2="610.90" stroke="#DCDCDC" stroke-width="0.9"/>
<line x1="63.3" x2="348.4" y1="597.20" y2="597.20" stroke="#DCDCDC" stroke-width="0.9"/>
<line x1="63.3" x2="348.4" y1="583.50" y2="583.50" stroke="#DCDCDC" stroke-width="0.9"/>
<line x1="63.3" x2="348.4" y1="569.80" y2="569.80" stroke="#DCDCDC" stroke-width="0.9"/>
<line x1="63.3" x2="348.4" y1="556.10" y2="556.10" stroke="#DCDCDC" stroke-width="0.9"/>
<line x1="65.0" x2="65.0" y1="553.6" y2="612.9" stroke="#E0E0E0" stroke-width="0.7"/>
<line x1="130.0" x2="130.0" y1="553.6" y2="612.9" stroke="#E0E0E0" stroke-width="0.7"/>
<line x1="195.0" x2="195.0" y1="553.6" y2="612.9" stroke="#E0E0E0" stroke-width="0.7"/>
<line x1="260.0" x2="260.0" y1="553.6" y2="612.9" stroke="#E0E0E0" stroke-width="0.7"/>
<line x1="325.0" x2="325.0" y1="553.6" y2="612.9" stroke="#E0E0E0" stroke-width="0.7"/>
<line x1="97.5" x2="97.5" y1="553.6" y2="612.9" stroke="#D2D2D2" stroke-width="0.9"/>
<line x1="162.5" x2="162.5" y1="553.6" y2="612.9" stroke="#D2D2D2" stroke-width="0.9"/>
<line x1="227.5" x2="227.5" y1="553.6" y2="612.9" stroke="#D2D2D2" stroke-width="0.9"/>
<line x1="292.5" x2="292.5" y1="553.6" y2="612.9" stroke="#D2D2D2" stroke-width="0.9"/>
<g fill="#D2691E"><circle cx="75.4" cy="590.6" r="2.9"/><circle cx="80.8" cy="588.5" r="2.9"/><circle cx="86.2" cy="589.8" r="2.9"/><circle cx="91.7" cy="589.2" r="2.9"/><circle cx="97.1" cy="588.5" r="2.9"/><circle cx="102.5" cy="587.7" r="2.9"/><circle cx="107.9" cy="586.6" r="2.9"/><circle cx="113.3" cy="584.3" r="2.9"/><circle cx="118.7" cy="584.3" r="2.9"/><circle cx="124.2" cy="583.4" r="2.9"/><circle cx="129.6" cy="584.9" r="2.9"/><circle cx="135.0" cy="583.9" r="2.9"/><circle cx="140.4" cy="587.0" r="2.9"/><circle cx="145.8" cy="589.6" r="2.9"/><circle cx="151.2" cy="589.6" r="2.9"/><circle cx="156.7" cy="589.6" r="2.9"/><circle cx="162.1" cy="588.5" r="2.9"/><circle cx="167.5" cy="589.2" r="2.9"/><circle cx="172.9" cy="589.6" r="2.9"/><circle cx="178.3" cy="589.2" r="2.9"/><circle cx="183.7" cy="591.7" r="2.9"/><circle cx="189.2" cy="590.9" r="2.9"/><circle cx="194.6" cy="588.5" r="2.9"/><circle cx="200.0" cy="591.9" r="2.9"/><circle cx="205.4" cy="591.9" r="2.9"/><circle cx="210.8" cy="588.5" r="2.9"/><circle cx="216.2" cy="588.1" r="2.9"/><circle cx="221.7" cy="586.6" r="2.9"/><circle cx="227.1" cy="587.0" r="2.9"/><circle cx="232.5" cy="586.0" r="2.9"/><circle cx="237.9" cy="584.9" r="2.9"/><circle cx="243.3" cy="584.5" r="2.9"/><circle cx="248.7" cy="585.4" r="2.9"/><circle cx="254.2" cy="586.4" r="2.9"/><circle cx="259.6" cy="589.8" r="2.9"/><circle cx="265.0" cy="588.1" r="2.9"/><circle cx="270.4" cy="588.7" r="2.9"/><circle cx="275.8" cy="587.7" r="2.9"/><circle cx="281.2" cy="587.0" r="2.9"/><circle cx="286.7" cy="580.7" r="2.9"/><circle cx="292.1" cy="579.2" r="2.9"/><circle cx="297.5" cy="584.9" r="2.9"/><circle cx="302.9" cy="587.7" r="2.9"/><circle cx="308.3" cy="580.7" r="2.9"/><circle cx="313.7" cy="580.7" r="2.9"/><circle cx="319.2" cy="583.2" r="2.9"/><circle cx="324.6" cy="583.9" r="2.9"/><circle cx="330.0" cy="581.3" r="2.9"/><circle cx="335.4" cy="589.6" r="2.9"/></g>
<g fill="#4C6CE8"><circle cx="75.4" cy="593.4" r="2.9"/><circle cx="80.8" cy="589.6" r="2.9"/><circle cx="86.2" cy="589.8" r="2.9"/><circle cx="91.7" cy="588.7" r="2.9"/><circle cx="97.1" cy="587.5" r="2.9"/><circle cx="102.5" cy="586.6" r="2.9"/><circle cx="107.9" cy="585.6" r="2.9"/><circle cx="113.3" cy="586.0" r="2.9"/><circle cx="118.7" cy="588.1" r="2.9"/><circle cx="124.2" cy="589.2" r="2.9"/><circle cx="129.6" cy="590.2" r="2.9"/><circle cx="135.0" cy="589.2" r="2.9"/><circle cx="140.4" cy="587.5" r="2.9"/><circle cx="145.8" cy="586.0" r="2.9"/><circle cx="151.2" cy="582.8" r="2.9"/><circle cx="156.7" cy="575.0" r="2.9"/><circle cx="162.1" cy="573.9" r="2.9"/><circle cx="167.5" cy="577.9" r="2.9"/><circle cx="172.9" cy="584.3" r="2.9"/><circle cx="178.3" cy="573.9" r="2.9"/><circle cx="183.7" cy="570.5" r="2.9"/><circle cx="189.2" cy="570.5" r="2.9"/><circle cx="194.6" cy="583.9" r="2.9"/><circle cx="200.0" cy="583.9" r="2.9"/><circle cx="205.4" cy="580.3" r="2.9"/><circle cx="210.8" cy="579.6" r="2.9"/><circle cx="216.2" cy="579.0" r="2.9"/><circle cx="221.7" cy="579.0" r="2.9"/><circle cx="227.1" cy="579.0" r="2.9"/><circle cx="232.5" cy="579.0" r="2.9"/><circle cx="237.9" cy="578.6" r="2.9"/><circle cx="243.3" cy="579.6" r="2.9"/><circle cx="248.7" cy="580.3" r="2.9"/><circle cx="254.2" cy="580.7" r="2.9"/><circle cx="259.6" cy="580.3" r="2.9"/><circle cx="265.0" cy="581.1" r="2.9"/><circle cx="270.4" cy="581.3" r="2.9"/><circle cx="275.8" cy="581.1" r="2.9"/><circle cx="281.2" cy="581.1" r="2.9"/><circle cx="286.7" cy="584.3" r="2.9"/><circle cx="292.1" cy="585.4" r="2.9"/><circle cx="297.5" cy="585.6" r="2.9"/><circle cx="302.9" cy="583.9" r="2.9"/><circle cx="308.3" cy="585.6" r="2.9"/><circle cx="313.7" cy="585.6" r="2.9"/><circle cx="319.2" cy="585.4" r="2.9"/><circle cx="324.6" cy="582.8" r="2.9"/><circle cx="330.0" cy="583.4" r="2.9"/><circle cx="335.4" cy="584.9" r="2.9"/></g>
<g fill="#42F51F"><circle cx="75.4" cy="575.4" r="2.9"/><circle cx="80.8" cy="571.2" r="2.9"/><circle cx="86.2" cy="565.5" r="2.9"/><circle cx="91.7" cy="561.2" r="2.9"/><circle cx="97.1" cy="562.3" r="2.9"/><circle cx="102.5" cy="561.2" r="2.9"/><circle cx="107.9" cy="562.7" r="2.9"/><circle cx="113.3" cy="561.6" r="2.9"/><circle cx="118.7" cy="562.7" r="2.9"/><circle cx="124.2" cy="564.2" r="2.9"/><circle cx="129.6" cy="565.9" r="2.9"/><circle cx="135.0" cy="571.8" r="2.9"/><circle cx="140.4" cy="571.8" r="2.9"/><circle cx="145.8" cy="568.4" r="2.9"/><circle cx="151.2" cy="569.5" r="2.9"/><circle cx="156.7" cy="570.5" r="2.9"/><circle cx="162.1" cy="571.6" r="2.9"/><circle cx="167.5" cy="570.5" r="2.9"/><circle cx="172.9" cy="571.6" r="2.9"/><circle cx="178.3" cy="571.2" r="2.9"/><circle cx="183.7" cy="570.7" r="2.9"/><circle cx="189.2" cy="571.2" r="2.9"/><circle cx="194.6" cy="573.3" r="2.9"/><circle cx="200.0" cy="572.6" r="2.9"/><circle cx="205.4" cy="573.3" r="2.9"/><circle cx="210.8" cy="573.7" r="2.9"/><circle cx="216.2" cy="572.6" r="2.9"/><circle cx="221.7" cy="571.6" r="2.9"/><circle cx="227.1" cy="569.5" r="2.9"/><circle cx="232.5" cy="572.6" r="2.9"/><circle cx="237.9" cy="573.3" r="2.9"/><circle cx="243.3" cy="574.3" r="2.9"/><circle cx="248.7" cy="575.4" r="2.9"/><circle cx="254.2" cy="575.0" r="2.9"/><circle cx="259.6" cy="573.9" r="2.9"/><circle cx="265.0" cy="573.7" r="2.9"/><circle cx="270.4" cy="572.6" r="2.9"/><circle cx="275.8" cy="571.8" r="2.9"/><circle cx="281.2" cy="573.3" r="2.9"/><circle cx="286.7" cy="573.9" r="2.9"/><circle cx="292.1" cy="576.0" r="2.9"/><circle cx="297.5" cy="577.5" r="2.9"/><circle cx="302.9" cy="576.5" r="2.9"/><circle cx="308.3" cy="577.9" r="2.9"/><circle cx="313.7" cy="576.5" r="2.9"/><circle cx="319.2" cy="577.9" r="2.9"/><circle cx="324.6" cy="575.0" r="2.9"/><circle cx="330.0" cy="575.8" r="2.9"/><circle cx="335.4" cy="576.0" r="2.9"/></g>
<rect x="130.0" y="553.6" width="65" height="59.3" fill="#000" fill-opacity="0.1"/>
<rect x="260.0" y="553.6" width="65" height="59.3" fill="#000" fill-opacity="0.1"/>
<rect x="63.3" y="553.6" width="285.1" height="59.3" fill="none" stroke="#333" stroke-width="1"/>
<line x1="59.0" x2="63.3" y1="610.90" y2="610.90" stroke="#333" stroke-width="1"/>
<text x="55.2" y="615.8" text-anchor="end" font-size="12.9" fill="#000" stroke="#000" stroke-width="0.2">0.00</text>
<line x1="59.0" x2="63.3" y1="597.20" y2="597.20" stroke="#333" stroke-width="1"/>
<text x="55.2" y="602.1" text-anchor="end" font-size="12.9" fill="#000" stroke="#000" stroke-width="0.2">0.25</text>
<line x1="59.0" x2="63.3" y1="583.50" y2="583.50" stroke="#333" stroke-width="1"/>
<text x="55.2" y="588.4" text-anchor="end" font-size="12.9" fill="#000" stroke="#000" stroke-width="0.2">0.50</text>
<line x1="59.0" x2="63.3" y1="569.80" y2="569.80" stroke="#333" stroke-width="1"/>
<text x="55.2" y="574.7" text-anchor="end" font-size="12.9" fill="#000" stroke="#000" stroke-width="0.2">0.75</text>
<line x1="59.0" x2="63.3" y1="556.10" y2="556.10" stroke="#333" stroke-width="1"/>
<text x="55.2" y="561.0" text-anchor="end" font-size="12.9" fill="#000" stroke="#000" stroke-width="0.2">1.00</text>
<text transform="translate(13.2,583.5) rotate(-90)" text-anchor="middle" font-size="13.1" fill="#000">SOR</text>
<line x1="97.5" x2="97.5" y1="612.9" y2="617.4" stroke="#333" stroke-width="1"/>
<text x="97.5" y="630.0" text-anchor="middle" font-size="13.0" fill="#000" stroke="#000" stroke-width="0.2">Oct 16</text>
<text x="97.5" y="644.2" text-anchor="middle" font-size="13.0" fill="#000" stroke="#000" stroke-width="0.2">12:00</text>
<line x1="162.5" x2="162.5" y1="612.9" y2="617.4" stroke="#333" stroke-width="1"/>
<text x="162.5" y="630.0" text-anchor="middle" font-size="13.0" fill="#000" stroke="#000" stroke-width="0.2">Oct 17</text>
<text x="162.5" y="644.2" text-anchor="middle" font-size="13.0" fill="#000" stroke="#000" stroke-width="0.2">00:00</text>
<line x1="227.5" x2="227.5" y1="612.9" y2="617.4" stroke="#333" stroke-width="1"/>
<text x="227.5" y="630.0" text-anchor="middle" font-size="13.0" fill="#000" stroke="#000" stroke-width="0.2">Oct 17</text>
<text x="227.5" y="644.2" text-anchor="middle" font-size="13.0" fill="#000" stroke="#000" stroke-width="0.2">12:00</text>
<line x1="292.5" x2="292.5" y1="612.9" y2="617.4" stroke="#333" stroke-width="1"/>
<text x="292.5" y="630.0" text-anchor="middle" font-size="13.0" fill="#000" stroke="#000" stroke-width="0.2">Oct 18</text>
<text x="292.5" y="644.2" text-anchor="middle" font-size="13.0" fill="#000" stroke="#000" stroke-width="0.2">00:00</text>
<rect x="398.2" y="279.4" width="285.7" height="59.6" fill="#fff"/>
<line x1="398.2" x2="683.9" y1="331.18" y2="331.18" stroke="#E2E2E2" stroke-width="0.7"/>
<line x1="398.2" x2="683.9" y1="318.93" y2="318.93" stroke="#E2E2E2" stroke-width="0.7"/>
<line x1="398.2" x2="683.9" y1="306.68" y2="306.68" stroke="#E2E2E2" stroke-width="0.7"/>
<line x1="398.2" x2="683.9" y1="294.43" y2="294.43" stroke="#E2E2E2" stroke-width="0.7"/>
<line x1="398.2" x2="683.9" y1="282.18" y2="282.18" stroke="#E2E2E2" stroke-width="0.7"/>
<line x1="398.2" x2="683.9" y1="337.30" y2="337.30" stroke="#DCDCDC" stroke-width="0.9"/>
<line x1="398.2" x2="683.9" y1="325.05" y2="325.05" stroke="#DCDCDC" stroke-width="0.9"/>
<line x1="398.2" x2="683.9" y1="312.80" y2="312.80" stroke="#DCDCDC" stroke-width="0.9"/>
<line x1="398.2" x2="683.9" y1="300.55" y2="300.55" stroke="#DCDCDC" stroke-width="0.9"/>
<line x1="398.2" x2="683.9" y1="288.30" y2="288.30" stroke="#DCDCDC" stroke-width="0.9"/>
<line x1="400.0" x2="400.0" y1="279.4" y2="339.0" stroke="#E0E0E0" stroke-width="0.7"/>
<line x1="465.0" x2="465.0" y1="279.4" y2="339.0" stroke="#E0E0E0" stroke-width="0.7"/>
<line x1="530.0" x2="530.0" y1="279.4" y2="339.0" stroke="#E0E0E0" stroke-width="0.7"/>
<line x1="595.0" x2="595.0" y1="279.4" y2="339.0" stroke="#E0E0E0" stroke-width="0.7"/>
<line x1="660.0" x2="660.0" y1="279.4" y2="339.0" stroke="#E0E0E0" stroke-width="0.7"/>
<line x1="432.5" x2="432.5" y1="279.4" y2="339.0" stroke="#D2D2D2" stroke-width="0.9"/>
<line x1="497.5" x2="497.5" y1="279.4" y2="339.0" stroke="#D2D2D2" stroke-width="0.9"/>
<line x1="562.5" x2="562.5" y1="279.4" y2="339.0" stroke="#D2D2D2" stroke-width="0.9"/>
<line x1="627.5" x2="627.5" y1="279.4" y2="339.0" stroke="#D2D2D2" stroke-width="0.9"/>
<g fill="#D2691E"><circle cx="410.4" cy="333.2" r="2.9"/><circle cx="415.8" cy="333.2" r="2.9"/><circle cx="421.2" cy="333.2" r="2.9"/><circle cx="426.7" cy="333.2" r="2.9"/><circle cx="432.1" cy="332.7" r="2.9"/><circle cx="437.5" cy="332.1" r="2.9"/><circle cx="442.9" cy="330.0" r="2.9"/><circle cx="448.3" cy="328.3" r="2.9"/><circle cx="453.7" cy="327.2" r="2.9"/><circle cx="459.2" cy="326.8" r="2.9"/><circle cx="464.6" cy="326.8" r="2.9"/><circle cx="470.0" cy="327.9" r="2.9"/><circle cx="475.4" cy="328.5" r="2.9"/><circle cx="480.8" cy="327.4" r="2.9"/><circle cx="486.2" cy="324.3" r="2.9"/><circle cx="491.7" cy="321.1" r="2.9"/><circle cx="497.1" cy="319.8" r="2.9"/><circle cx="502.5" cy="316.6" r="2.9"/><circle cx="507.9" cy="314.7" r="2.9"/><circle cx="513.3" cy="314.7" r="2.9"/><circle cx="518.7" cy="314.5" r="2.9"/><circle cx="524.2" cy="314.1" r="2.9"/><circle cx="529.6" cy="313.0" r="2.9"/><circle cx="535.0" cy="313.0" r="2.9"/><circle cx="540.4" cy="312.6" r="2.9"/><circle cx="545.8" cy="313.7" r="2.9"/><circle cx="551.2" cy="314.5" r="2.9"/><circle cx="556.7" cy="315.8" r="2.9"/><circle cx="562.1" cy="317.7" r="2.9"/><circle cx="567.5" cy="319.4" r="2.9"/><circle cx="572.9" cy="320.5" r="2.9"/><circle cx="578.3" cy="322.6" r="2.9"/><circle cx="583.7" cy="324.3" r="2.9"/><circle cx="589.2" cy="324.7" r="2.9"/><circle cx="594.6" cy="323.0" r="2.9"/><circle cx="600.0" cy="324.7" r="2.9"/><circle cx="605.4" cy="326.8" r="2.9"/><circle cx="610.8" cy="328.3" r="2.9"/><circle cx="616.2" cy="330.0" r="2.9"/><circle cx="621.7" cy="330.4" r="2.9"/><circle cx="627.1" cy="332.1" r="2.9"/><circle cx="632.5" cy="331.0" r="2.9"/><circle cx="637.9" cy="332.1" r="2.9"/><circle cx="643.3" cy="333.2" r="2.9"/><circle cx="648.7" cy="333.2" r="2.9"/><circle cx="654.2" cy="333.2" r="2.9"/><circle cx="659.6" cy="333.6" r="2.9"/><circle cx="665.0" cy="333.8" r="2.9"/><circle cx="670.4" cy="334.2" r="2.9"/></g>
<g fill="#4C6CE8"><circle cx="410.4" cy="328.3" r="2.9"/><circle cx="415.8" cy="328.3" r="2.9"/><circle cx="421.2" cy="326.8" r="2.9"/><circle cx="426.7" cy="326.8" r="2.9"/><circle cx="432.1" cy="327.2" r="2.9"/><circle cx="437.5" cy="327.4" r="2.9"/><circle cx="442.9" cy="330.6" r="2.9"/><circle cx="448.3" cy="331.5" r="2.9"/><circle cx="453.7" cy="331.5" r="2.9"/><circle cx="459.2" cy="331.0" r="2.9"/><circle cx="464.6" cy="328.9" r="2.9"/><circle cx="470.0" cy="327.9" r="2.9"/><circle cx="475.4" cy="325.7" r="2.9"/><circle cx="480.8" cy="324.7" r="2.9"/><circle cx="486.2" cy="323.6" r="2.9"/><circle cx="491.7" cy="322.6" r="2.9"/><circle cx="497.1" cy="321.5" r="2.9"/><circle cx="502.5" cy="321.9" r="2.9"/><circle cx="507.9" cy="321.1" r="2.9"/><circle cx="513.3" cy="320.9" r="2.9"/><circle cx="518.7" cy="319.8" r="2.9"/><circle cx="524.2" cy="319.4" r="2.9"/><circle cx="529.6" cy="317.7" r="2.9"/><circle cx="535.0" cy="316.6" r="2.9"/><circle cx="540.4" cy="315.2" r="2.9"/><circle cx="545.8" cy="313.7" r="2.9"/><circle cx="551.2" cy="312.4" r="2.9"/><circle cx="556.7" cy="310.9" r="2.9"/><circle cx="562.1" cy="309.9" r="2.9"/><circle cx="567.5" cy="309.4" r="2.9"/><circle cx="572.9" cy="310.5" r="2.9"/><circle cx="578.3" cy="313.5" r="2.9"/><circle cx="583.7" cy="314.5" r="2.9"/><circle cx="589.2" cy="315.6" r="2.9"/><circle cx="594.6" cy="318.3" r="2.9"/><circle cx="600.0" cy="321.5" r="2.9"/><circle cx="605.4" cy="324.1" r="2.9"/><circle cx="610.8" cy="325.7" r="2.9"/><circle cx="616.2" cy="326.8" r="2.9"/><circle cx="621.7" cy="327.4" r="2.9"/><circle cx="627.1" cy="327.2" r="2.9"/><circle cx="632.5" cy="326.8" r="2.9"/><circle cx="637.9" cy="326.2" r="2.9"/><circle cx="643.3" cy="325.7" r="2.9"/><circle cx="648.7" cy="325.3" r="2.9"/><circle cx="654.2" cy="325.1" r="2.9"/><circle cx="659.6" cy="324.7" r="2.9"/><circle cx="665.0" cy="324.7" r="2.9"/><circle cx="670.4" cy="324.7" r="2.9"/></g>
<g fill="#42F51F"><circle cx="410.4" cy="308.2" r="2.9"/><circle cx="415.8" cy="308.4" r="2.9"/><circle cx="421.2" cy="309.4" r="2.9"/><circle cx="426.7" cy="310.5" r="2.9"/><circle cx="432.1" cy="312.0" r="2.9"/><circle cx="437.5" cy="313.5" r="2.9"/><circle cx="442.9" cy="314.5" r="2.9"/><circle cx="448.3" cy="315.8" r="2.9"/><circle cx="453.7" cy="317.3" r="2.9"/><circle cx="459.2" cy="318.3" r="2.9"/><circle cx="464.6" cy="319.8" r="2.9"/><circle cx="470.0" cy="320.5" r="2.9"/><circle cx="475.4" cy="321.5" r="2.9"/><circle cx="480.8" cy="322.6" r="2.9"/><circle cx="486.2" cy="324.1" r="2.9"/><circle cx="491.7" cy="324.7" r="2.9"/><circle cx="497.1" cy="325.3" r="2.9"/><circle cx="502.5" cy="325.7" r="2.9"/><circle cx="507.9" cy="326.4" r="2.9"/><circle cx="513.3" cy="326.8" r="2.9"/><circle cx="518.7" cy="327.2" r="2.9"/><circle cx="524.2" cy="327.4" r="2.9"/><circle cx="529.6" cy="327.4" r="2.9"/><circle cx="535.0" cy="327.4" r="2.9"/><circle cx="540.4" cy="327.4" r="2.9"/><circle cx="545.8" cy="327.4" r="2.9"/><circle cx="551.2" cy="326.8" r="2.9"/><circle cx="556.7" cy="326.2" r="2.9"/><circle cx="562.1" cy="327.4" r="2.9"/><circle cx="567.5" cy="329.3" r="2.9"/><circle cx="572.9" cy="331.5" r="2.9"/><circle cx="578.3" cy="333.6" r="2.9"/><circle cx="583.7" cy="333.8" r="2.9"/><circle cx="589.2" cy="326.8" r="2.9"/><circle cx="594.6" cy="321.5" r="2.9"/><circle cx="600.0" cy="320.5" r="2.9"/><circle cx="605.4" cy="319.8" r="2.9"/><circle cx="610.8" cy="319.4" r="2.9"/><circle cx="616.2" cy="319.0" r="2.9"/><circle cx="621.7" cy="318.3" r="2.9"/><circle cx="627.1" cy="317.9" r="2.9"/><circle cx="632.5" cy="316.9" r="2.9"/><circle cx="637.9" cy="315.6" r="2.9"/><circle cx="643.3" cy="314.5" r="2.9"/><circle cx="648.7" cy="314.1" r="2.9"/><circle cx="654.2" cy="313.5" r="2.9"/><circle cx="659.6" cy="313.0" r="2.9"/><circle cx="665.0" cy="312.6" r="2.9"/><circle cx="670.4" cy="312.6" r="2.9"/></g>
<rect x="465.0" y="279.4" width="65" height="59.6" fill="#000" fill-opacity="0.1"/>
<rect x="595.0" y="279.4" width="65" height="59.6" fill="#000" fill-opacity="0.1"/>
<rect x="398.2" y="279.4" width="285.7" height="59.6" fill="none" stroke="#333" stroke-width="1"/>
<line x1="393.9" x2="398.2" y1="337.30" y2="337.30" stroke="#333" stroke-width="1"/>
<text x="390.1" y="342.2" text-anchor="end" font-size="12.9" fill="#000" stroke="#000" stroke-width="0.2">0</text>
<line x1="393.9" x2="398.2" y1="325.05" y2="325.05" stroke="#333" stroke-width="1"/>
<text x="390.1" y="329.9" text-anchor="end" font-size="12.9" fill="#000" stroke="#000" stroke-width="0.2">500</text>
<line x1="393.9" x2="398.2" y1="312.80" y2="312.80" stroke="#333" stroke-width="1"/>
<text x="390.1" y="317.7" text-anchor="end" font-size="12.9" fill="#000" stroke="#000" stroke-width="0.2">1000</text>
<line x1="393.9" x2="398.2" y1="300.55" y2="300.55" stroke="#333" stroke-width="1"/>
<text x="390.1" y="305.4" text-anchor="end" font-size="12.9" fill="#000" stroke="#000" stroke-width="0.2">1500</text>
<line x1="393.9" x2="398.2" y1="288.30" y2="288.30" stroke="#333" stroke-width="1"/>
<text x="390.1" y="293.2" text-anchor="end" font-size="12.9" fill="#000" stroke="#000" stroke-width="0.2">2000</text>
<rect x="398.2" y="348.5" width="285.7" height="59.2" fill="#fff"/>
<line x1="398.2" x2="683.9" y1="398.20" y2="398.20" stroke="#E2E2E2" stroke-width="0.7"/>
<line x1="398.2" x2="683.9" y1="384.60" y2="384.60" stroke="#E2E2E2" stroke-width="0.7"/>
<line x1="398.2" x2="683.9" y1="371.00" y2="371.00" stroke="#E2E2E2" stroke-width="0.7"/>
<line x1="398.2" x2="683.9" y1="357.40" y2="357.40" stroke="#E2E2E2" stroke-width="0.7"/>
<line x1="398.2" x2="683.9" y1="405.00" y2="405.00" stroke="#DCDCDC" stroke-width="0.9"/>
<line x1="398.2" x2="683.9" y1="391.40" y2="391.40" stroke="#DCDCDC" stroke-width="0.9"/>
<line x1="398.2" x2="683.9" y1="377.80" y2="377.80" stroke="#DCDCDC" stroke-width="0.9"/>
<line x1="398.2" x2="683.9" y1="364.20" y2="364.20" stroke="#DCDCDC" stroke-width="0.9"/>
<line x1="398.2" x2="683.9" y1="350.60" y2="350.60" stroke="#DCDCDC" stroke-width="0.9"/>
<line x1="400.0" x2="400.0" y1="348.5" y2="407.7" stroke="#E0E0E0" stroke-width="0.7"/>
<line x1="465.0" x2="465.0" y1="348.5" y2="407.7" stroke="#E0E0E0" stroke-width="0.7"/>
<line x1="530.0" x2="530.0" y1="348.5" y2="407.7" stroke="#E0E0E0" stroke-width="0.7"/>
<line x1="595.0" x2="595.0" y1="348.5" y2="407.7" stroke="#E0E0E0" stroke-width="0.7"/>
<line x1="660.0" x2="660.0" y1="348.5" y2="407.7" stroke="#E0E0E0" stroke-width="0.7"/>
<line x1="432.5" x2="432.5" y1="348.5" y2="407.7" stroke="#D2D2D2" stroke-width="0.9"/>
<line x1="497.5" x2="497.5" y1="348.5" y2="407.7" stroke="#D2D2D2" stroke-width="0.9"/>
<line x1="562.5" x2="562.5" y1="348.5" y2="407.7" stroke="#D2D2D2" stroke-width="0.9"/>
<line x1="627.5" x2="627.5" y1="348.5" y2="407.7" stroke="#D2D2D2" stroke-width="0.9"/>
<g fill="#D2691E"><circle cx="410.4" cy="405.3" r="2.9"/><circle cx="415.8" cy="404.3" r="2.9"/><circle cx="421.2" cy="397.9" r="2.9"/><circle cx="426.7" cy="394.1" r="2.9"/><circle cx="432.1" cy="392.6" r="2.9"/><circle cx="437.5" cy="390.1" r="2.9"/><circle cx="442.9" cy="389.0" r="2.9"/><circle cx="448.3" cy="388.0" r="2.9"/><circle cx="453.7" cy="390.1" r="2.9"/><circle cx="459.2" cy="390.1" r="2.9"/><circle cx="464.6" cy="390.1" r="2.9"/><circle cx="470.0" cy="389.5" r="2.9"/><circle cx="475.4" cy="388.0" r="2.9"/><circle cx="480.8" cy="390.1" r="2.9"/><circle cx="486.2" cy="390.9" r="2.9"/><circle cx="491.7" cy="394.3" r="2.9"/><circle cx="497.1" cy="394.3" r="2.9"/><circle cx="502.5" cy="395.2" r="2.9"/><circle cx="507.9" cy="394.3" r="2.9"/><circle cx="513.3" cy="393.3" r="2.9"/><circle cx="518.7" cy="392.6" r="2.9"/><circle cx="524.2" cy="392.6" r="2.9"/><circle cx="529.6" cy="392.0" r="2.9"/><circle cx="535.0" cy="391.6" r="2.9"/><circle cx="540.4" cy="390.9" r="2.9"/><circle cx="545.8" cy="390.5" r="2.9"/><circle cx="551.2" cy="390.9" r="2.9"/><circle cx="556.7" cy="388.0" r="2.9"/><circle cx="562.1" cy="385.2" r="2.9"/><circle cx="567.5" cy="377.2" r="2.9"/><circle cx="572.9" cy="376.8" r="2.9"/><circle cx="578.3" cy="371.0" r="2.9"/><circle cx="583.7" cy="367.2" r="2.9"/><circle cx="589.2" cy="366.2" r="2.9"/><circle cx="594.6" cy="369.3" r="2.9"/><circle cx="600.0" cy="370.4" r="2.9"/><circle cx="605.4" cy="372.1" r="2.9"/><circle cx="610.8" cy="372.5" r="2.9"/><circle cx="616.2" cy="373.6" r="2.9"/><circle cx="621.7" cy="373.6" r="2.9"/><circle cx="627.1" cy="374.6" r="2.9"/><circle cx="632.5" cy="375.7" r="2.9"/><circle cx="637.9" cy="376.8" r="2.9"/><circle cx="643.3" cy="374.6" r="2.9"/><circle cx="648.7" cy="373.2" r="2.9"/><circle cx="654.2" cy="369.8" r="2.9"/><circle cx="659.6" cy="369.3" r="2.9"/><circle cx="665.0" cy="366.6" r="2.9"/><circle cx="670.4" cy="365.7" r="2.9"/></g>
<g fill="#4C6CE8"><circle cx="410.4" cy="371.5" r="2.9"/><circle cx="415.8" cy="371.9" r="2.9"/><circle cx="421.2" cy="367.6" r="2.9"/><circle cx="426.7" cy="367.2" r="2.9"/><circle cx="432.1" cy="365.5" r="2.9"/><circle cx="437.5" cy="366.6" r="2.9"/><circle cx="442.9" cy="360.9" r="2.9"/><circle cx="448.3" cy="354.1" r="2.9"/><circle cx="453.7" cy="353.5" r="2.9"/><circle cx="459.2" cy="353.5" r="2.9"/><circle cx="464.6" cy="358.1" r="2.9"/><circle cx="470.0" cy="361.5" r="2.9"/><circle cx="475.4" cy="367.2" r="2.9"/><circle cx="480.8" cy="370.8" r="2.9"/><circle cx="486.2" cy="372.5" r="2.9"/><circle cx="491.7" cy="375.1" r="2.9"/><circle cx="497.1" cy="376.8" r="2.9"/><circle cx="502.5" cy="377.2" r="2.9"/><circle cx="507.9" cy="378.2" r="2.9"/><circle cx="513.3" cy="379.9" r="2.9"/><circle cx="518.7" cy="378.9" r="2.9"/><circle cx="524.2" cy="380.6" r="2.9"/><circle cx="529.6" cy="380.6" r="2.9"/><circle cx="535.0" cy="382.0" r="2.9"/><circle cx="540.4" cy="382.0" r="2.9"/><circle cx="545.8" cy="382.5" r="2.9"/><circle cx="551.2" cy="383.1" r="2.9"/><circle cx="556.7" cy="384.6" r="2.9"/><circle cx="562.1" cy="383.5" r="2.9"/><circle cx="567.5" cy="381.6" r="2.9"/><circle cx="572.9" cy="381.0" r="2.9"/><circle cx="578.3" cy="377.8" r="2.9"/><circle cx="583.7" cy="377.8" r="2.9"/><circle cx="589.2" cy="375.7" r="2.9"/><circle cx="594.6" cy="371.5" r="2.9"/><circle cx="600.0" cy="369.8" r="2.9"/><circle cx="605.4" cy="370.4" r="2.9"/><circle cx="610.8" cy="367.9" r="2.9"/><circle cx="616.2" cy="369.3" r="2.9"/><circle cx="621.7" cy="368.3" r="2.9"/><circle cx="627.1" cy="369.3" r="2.9"/><circle cx="632.5" cy="370.4" r="2.9"/><circle cx="637.9" cy="372.5" r="2.9"/><circle cx="643.3" cy="373.6" r="2.9"/><circle cx="648.7" cy="373.6" r="2.9"/><circle cx="654.2" cy="374.0" r="2.9"/><circle cx="659.6" cy="374.0" r="2.9"/><circle cx="665.0" cy="374.0" r="2.9"/><circle cx="670.4" cy="375.3" r="2.9"/></g>
<g fill="#42F51F"><circle cx="410.4" cy="379.9" r="2.9"/><circle cx="415.8" cy="379.9" r="2.9"/><circle cx="421.2" cy="379.9" r="2.9"/><circle cx="426.7" cy="376.8" r="2.9"/><circle cx="432.1" cy="377.2" r="2.9"/><circle cx="437.5" cy="377.4" r="2.9"/><circle cx="442.9" cy="377.8" r="2.9"/><circle cx="448.3" cy="373.6" r="2.9"/><circle cx="453.7" cy="372.9" r="2.9"/><circle cx="459.2" cy="372.5" r="2.9"/><circle cx="464.6" cy="368.9" r="2.9"/><circle cx="470.0" cy="368.9" r="2.9"/><circle cx="475.4" cy="368.7" r="2.9"/><circle cx="480.8" cy="368.7" r="2.9"/><circle cx="486.2" cy="369.3" r="2.9"/><circle cx="491.7" cy="366.8" r="2.9"/><circle cx="497.1" cy="367.6" r="2.9"/><circle cx="502.5" cy="367.9" r="2.9"/><circle cx="507.9" cy="368.3" r="2.9"/><circle cx="513.3" cy="368.7" r="2.9"/><circle cx="518.7" cy="368.9" r="2.9"/><circle cx="524.2" cy="369.3" r="2.9"/><circle cx="529.6" cy="368.7" r="2.9"/><circle cx="535.0" cy="369.3" r="2.9"/><circle cx="540.4" cy="368.9" r="2.9"/><circle cx="545.8" cy="368.3" r="2.9"/><circle cx="551.2" cy="366.2" r="2.9"/><circle cx="556.7" cy="365.5" r="2.9"/><circle cx="562.1" cy="366.2" r="2.9"/><circle cx="567.5" cy="363.4" r="2.9"/><circle cx="572.9" cy="357.1" r="2.9"/><circle cx="578.3" cy="360.2" r="2.9"/><circle cx="583.7" cy="360.2" r="2.9"/><circle cx="589.2" cy="365.5" r="2.9"/><circle cx="594.6" cy="368.3" r="2.9"/><circle cx="600.0" cy="370.8" r="2.9"/><circle cx="605.4" cy="374.0" r="2.9"/><circle cx="610.8" cy="375.1" r="2.9"/><circle cx="616.2" cy="374.6" r="2.9"/><circle cx="621.7" cy="375.3" r="2.9"/><circle cx="627.1" cy="376.3" r="2.9"/><circle cx="632.5" cy="376.8" r="2.9"/><circle cx="637.9" cy="377.4" r="2.9"/><circle cx="643.3" cy="379.9" r="2.9"/><circle cx="648.7" cy="380.6" r="2.9"/><circle cx="654.2" cy="381.4" r="2.9"/><circle cx="659.6" cy="382.5" r="2.9"/><circle cx="665.0" cy="382.7" r="2.9"/><circle cx="670.4" cy="383.1" r="2.9"/></g>
<rect x="465.0" y="348.5" width="65" height="59.2" fill="#000" fill-opacity="0.1"/>
<rect x="595.0" y="348.5" width="65" height="59.2" fill="#000" fill-opacity="0.1"/>
<rect x="398.2" y="348.5" width="285.7" height="59.2" fill="none" stroke="#333" stroke-width="1"/>
<line x1="393.9" x2="398.2" y1="405.00" y2="405.00" stroke="#333" stroke-width="1"/>
<text x="390.1" y="409.9" text-anchor="end" font-size="12.9" fill="#000" stroke="#000" stroke-width="0.2">10</text>
<line x1="393.9" x2="398.2" y1="391.40" y2="391.40" stroke="#333" stroke-width="1"/>
<text x="390.1" y="396.3" text-anchor="end" font-size="12.9" fill="#000" stroke="#000" stroke-width="0.2">15</text>
<line x1="393.9" x2="398.2" y1="377.80" y2="377.80" stroke="#333" stroke-width="1"/>
<text x="390.1" y="382.7" text-anchor="end" font-size="12.9" fill="#000" stroke="#000" stroke-width="0.2">20</text>
<line x1="393.9" x2="398.2" y1="364.20" y2="364.20" stroke="#333" stroke-width="1"/>
<text x="390.1" y="369.1" text-anchor="end" font-size="12.9" fill="#000" stroke="#000" stroke-width="0.2">25</text>
<line x1="393.9" x2="398.2" y1="350.60" y2="350.60" stroke="#333" stroke-width="1"/>
<text x="390.1" y="355.5" text-anchor="end" font-size="12.9" fill="#000" stroke="#000" stroke-width="0.2">30</text>
<rect x="398.2" y="416.8" width="285.7" height="59.5" fill="#fff"/>
<line x1="398.2" x2="683.9" y1="466.60" y2="466.60" stroke="#E2E2E2" stroke-width="0.7"/>
<line x1="398.2" x2="683.9" y1="453.00" y2="453.00" stroke="#E2E2E2" stroke-width="0.7"/>
<line x1="398.2" x2="683.9" y1="439.40" y2="439.40" stroke="#E2E2E2" stroke-width="0.7"/>
<line x1="398.2" x2="683.9" y1="425.80" y2="425.80" stroke="#E2E2E2" stroke-width="0.7"/>
<line x1="398.2" x2="683.9" y1="473.40" y2="473.40" stroke="#DCDCDC" stroke-width="0.9"/>
<line x1="398.2" x2="683.9" y1="459.80" y2="459.80" stroke="#DCDCDC" stroke-width="0.9"/>
<line x1="398.2" x2="683.9" y1="446.20" y2="446.20" stroke="#DCDCDC" stroke-width="0.9"/>
<line x1="398.2" x2="683.9" y1="432.60" y2="432.60" stroke="#DCDCDC" stroke-width="0.9"/>
<line x1="398.2" x2="683.9" y1="419.00" y2="419.00" stroke="#DCDCDC" stroke-width="0.9"/>
<line x1="400.0" x2="400.0" y1="416.8" y2="476.3" stroke="#E0E0E0" stroke-width="0.7"/>
<line x1="465.0" x2="465.0" y1="416.8" y2="476.3" stroke="#E0E0E0" stroke-width="0.7"/>
<line x1="530.0" x2="530.0" y1="416.8" y2="476.3" stroke="#E0E0E0" stroke-width="0.7"/>
<line x1="595.0" x2="595.0" y1="416.8" y2="476.3" stroke="#E0E0E0" stroke-width="0.7"/>
<line x1="660.0" x2="660.0" y1="416.8" y2="476.3" stroke="#E0E0E0" stroke-width="0.7"/>
<line x1="432.5" x2="432.5" y1="416.8" y2="476.3" stroke="#D2D2D2" stroke-width="0.9"/>
<line x1="497.5" x2="497.5" y1="416.8" y2="476.3" stroke="#D2D2D2" stroke-width="0.9"/>
<line x1="562.5" x2="562.5" y1="416.8" y2="476.3" stroke="#D2D2D2" stroke-width="0.9"/>
<line x1="627.5" x2="627.5" y1="416.8" y2="476.3" stroke="#D2D2D2" stroke-width="0.9"/>
<g fill="#D2691E"><circle cx="410.4" cy="435.2" r="2.9"/><circle cx="415.8" cy="435.2" r="2.9"/><circle cx="421.2" cy="442.0" r="2.9"/><circle cx="426.7" cy="444.3" r="2.9"/><circle cx="432.1" cy="445.4" r="2.9"/><circle cx="437.5" cy="445.4" r="2.9"/><circle cx="442.9" cy="446.4" r="2.9"/><circle cx="448.3" cy="446.9" r="2.9"/><circle cx="453.7" cy="444.8" r="2.9"/><circle cx="459.2" cy="444.8" r="2.9"/><circle cx="464.6" cy="441.2" r="2.9"/><circle cx="470.0" cy="438.8" r="2.9"/><circle cx="475.4" cy="436.9" r="2.9"/><circle cx="480.8" cy="434.2" r="2.9"/><circle cx="486.2" cy="435.2" r="2.9"/><circle cx="491.7" cy="433.1" r="2.9"/><circle cx="497.1" cy="433.1" r="2.9"/><circle cx="502.5" cy="431.6" r="2.9"/><circle cx="507.9" cy="431.0" r="2.9"/><circle cx="513.3" cy="431.0" r="2.9"/><circle cx="518.7" cy="430.6" r="2.9"/><circle cx="524.2" cy="429.9" r="2.9"/><circle cx="529.6" cy="429.3" r="2.9"/><circle cx="535.0" cy="429.3" r="2.9"/><circle cx="540.4" cy="428.2" r="2.9"/><circle cx="545.8" cy="429.3" r="2.9"/><circle cx="551.2" cy="427.4" r="2.9"/><circle cx="556.7" cy="428.2" r="2.9"/><circle cx="562.1" cy="428.5" r="2.9"/><circle cx="567.5" cy="434.2" r="2.9"/><circle cx="572.9" cy="433.7" r="2.9"/><circle cx="578.3" cy="435.9" r="2.9"/><circle cx="583.7" cy="436.3" r="2.9"/><circle cx="589.2" cy="435.9" r="2.9"/><circle cx="594.6" cy="433.5" r="2.9"/><circle cx="600.0" cy="432.1" r="2.9"/><circle cx="605.4" cy="426.1" r="2.9"/><circle cx="610.8" cy="424.0" r="2.9"/><circle cx="616.2" cy="423.2" r="2.9"/><circle cx="621.7" cy="421.9" r="2.9"/><circle cx="627.1" cy="419.4" r="2.9"/><circle cx="632.5" cy="419.4" r="2.9"/><circle cx="637.9" cy="419.4" r="2.9"/><circle cx="643.3" cy="419.4" r="2.9"/><circle cx="648.7" cy="420.0" r="2.9"/><circle cx="654.2" cy="422.5" r="2.9"/><circle cx="659.6" cy="423.6" r="2.9"/><circle cx="665.0" cy="427.4" r="2.9"/><circle cx="670.4" cy="428.2" r="2.9"/></g>
<g fill="#4C6CE8"><circle cx="410.4" cy="425.1" r="2.9"/><circle cx="415.8" cy="427.8" r="2.9"/><circle cx="421.2" cy="433.1" r="2.9"/><circle cx="426.7" cy="434.2" r="2.9"/><circle cx="432.1" cy="434.2" r="2.9"/><circle cx="437.5" cy="433.1" r="2.9"/><circle cx="442.9" cy="436.7" r="2.9"/><circle cx="448.3" cy="443.7" r="2.9"/><circle cx="453.7" cy="444.3" r="2.9"/><circle cx="459.2" cy="444.3" r="2.9"/><circle cx="464.6" cy="439.9" r="2.9"/><circle cx="470.0" cy="435.2" r="2.9"/><circle cx="475.4" cy="430.6" r="2.9"/><circle cx="480.8" cy="429.9" r="2.9"/><circle cx="486.2" cy="430.6" r="2.9"/><circle cx="491.7" cy="430.6" r="2.9"/><circle cx="497.1" cy="428.9" r="2.9"/><circle cx="502.5" cy="427.8" r="2.9"/><circle cx="507.9" cy="427.4" r="2.9"/><circle cx="513.3" cy="427.8" r="2.9"/><circle cx="518.7" cy="428.5" r="2.9"/><circle cx="524.2" cy="427.4" r="2.9"/><circle cx="529.6" cy="426.8" r="2.9"/><circle cx="535.0" cy="424.0" r="2.9"/><circle cx="540.4" cy="423.6" r="2.9"/><circle cx="545.8" cy="422.5" r="2.9"/><circle cx="551.2" cy="420.4" r="2.9"/><circle cx="556.7" cy="419.8" r="2.9"/><circle cx="562.1" cy="420.0" r="2.9"/><circle cx="567.5" cy="419.8" r="2.9"/><circle cx="572.9" cy="419.8" r="2.9"/><circle cx="578.3" cy="422.5" r="2.9"/><circle cx="583.7" cy="421.9" r="2.9"/><circle cx="589.2" cy="424.6" r="2.9"/><circle cx="594.6" cy="429.3" r="2.9"/><circle cx="600.0" cy="432.1" r="2.9"/><circle cx="605.4" cy="432.1" r="2.9"/><circle cx="610.8" cy="431.6" r="2.9"/><circle cx="616.2" cy="429.9" r="2.9"/><circle cx="621.7" cy="428.9" r="2.9"/><circle cx="627.1" cy="425.7" r="2.9"/><circle cx="632.5" cy="424.6" r="2.9"/><circle cx="637.9" cy="423.6" r="2.9"/><circle cx="643.3" cy="422.9" r="2.9"/><circle cx="648.7" cy="422.1" r="2.9"/><circle cx="654.2" cy="422.5" r="2.9"/><circle cx="659.6" cy="422.5" r="2.9"/><circle cx="665.0" cy="422.9" r="2.9"/><circle cx="670.4" cy="421.9" r="2.9"/></g>
<g fill="#42F51F"><circle cx="410.4" cy="435.2" r="2.9"/><circle cx="415.8" cy="435.2" r="2.9"/><circle cx="421.2" cy="434.8" r="2.9"/><circle cx="426.7" cy="435.6" r="2.9"/><circle cx="432.1" cy="434.2" r="2.9"/><circle cx="437.5" cy="433.5" r="2.9"/><circle cx="442.9" cy="432.5" r="2.9"/><circle cx="448.3" cy="434.2" r="2.9"/><circle cx="453.7" cy="433.5" r="2.9"/><circle cx="459.2" cy="432.7" r="2.9"/><circle cx="464.6" cy="434.6" r="2.9"/><circle cx="470.0" cy="434.2" r="2.9"/><circle cx="475.4" cy="433.5" r="2.9"/><circle cx="480.8" cy="433.7" r="2.9"/><circle cx="486.2" cy="433.1" r="2.9"/><circle cx="491.7" cy="432.5" r="2.9"/><circle cx="497.1" cy="431.4" r="2.9"/><circle cx="502.5" cy="431.6" r="2.9"/><circle cx="507.9" cy="430.6" r="2.9"/><circle cx="513.3" cy="431.0" r="2.9"/><circle cx="518.7" cy="430.6" r="2.9"/><circle cx="524.2" cy="429.9" r="2.9"/><circle cx="529.6" cy="429.3" r="2.9"/><circle cx="535.0" cy="428.2" r="2.9"/><circle cx="540.4" cy="428.2" r="2.9"/><circle cx="545.8" cy="428.2" r="2.9"/><circle cx="551.2" cy="431.0" r="2.9"/><circle cx="556.7" cy="433.5" r="2.9"/><circle cx="562.1" cy="433.1" r="2.9"/><circle cx="567.5" cy="434.2" r="2.9"/><circle cx="572.9" cy="440.1" r="2.9"/><circle cx="578.3" cy="434.6" r="2.9"/><circle cx="583.7" cy="434.8" r="2.9"/><circle cx="589.2" cy="434.6" r="2.9"/><circle cx="594.6" cy="433.5" r="2.9"/><circle cx="600.0" cy="431.6" r="2.9"/><circle cx="605.4" cy="428.9" r="2.9"/><circle cx="610.8" cy="427.4" r="2.9"/><circle cx="616.2" cy="430.6" r="2.9"/><circle cx="621.7" cy="429.3" r="2.9"/><circle cx="627.1" cy="427.8" r="2.9"/><circle cx="632.5" cy="427.4" r="2.9"/><circle cx="637.9" cy="426.1" r="2.9"/><circle cx="643.3" cy="425.1" r="2.9"/><circle cx="648.7" cy="424.2" r="2.9"/><circle cx="654.2" cy="424.2" r="2.9"/><circle cx="659.6" cy="423.6" r="2.9"/><circle cx="665.0" cy="423.2" r="2.9"/><circle cx="670.4" cy="424.2" r="2.9"/></g>
<rect x="465.0" y="416.8" width="65" height="59.5" fill="#000" fill-opacity="0.1"/>
<rect x="595.0" y="416.8" width="65" height="59.5" fill="#000" fill-opacity="0.1"/>
<rect x="398.2" y="416.8" width="285.7" height="59.5" fill="none" stroke="#333" stroke-width="1"/>
<line x1="393.9" x2="398.2" y1="473.40" y2="473.40" stroke="#333" stroke-width="1"/>
<text x="390.1" y="478.3" text-anchor="end" font-size="12.9" fill="#000" stroke="#000" stroke-width="0.2">0</text>
<line x1="393.9" x2="398.2" y1="459.80" y2="459.80" stroke="#333" stroke-width="1"/>
<text x="390.1" y="464.7" text-anchor="end" font-size="12.9" fill="#000" stroke="#000" stroke-width="0.2">25</text>
<line x1="393.9" x2="398.2" y1="446.20" y2="446.20" stroke="#333" stroke-width="1"/>
<text x="390.1" y="451.1" text-anchor="end" font-size="12.9" fill="#000" stroke="#000" stroke-width="0.2">50</text>
<line x1="393.9" x2="398.2" y1="432.60" y2="432.60" stroke="#333" stroke-width="1"/>
<text x="390.1" y="437.5" text-anchor="end" font-size="12.9" fill="#000" stroke="#000" stroke-width="0.2">75</text>
<line x1="393.9" x2="398.2" y1="419.00" y2="419.00" stroke="#333" stroke-width="1"/>
<text x="390.1" y="423.9" text-anchor="end" font-size="12.9" fill="#000" stroke="#000" stroke-width="0.2">100</text>
<rect x="398.2" y="485.3" width="285.7" height="59.7" fill="#fff"/>
<line x1="398.2" x2="683.9" y1="533.27" y2="533.27" stroke="#E2E2E2" stroke-width="0.7"/>
<line x1="398.2" x2="683.9" y1="514.83" y2="514.83" stroke="#E2E2E2" stroke-width="0.7"/>
<line x1="398.2" x2="683.9" y1="496.38" y2="496.38" stroke="#E2E2E2" stroke-width="0.7"/>
<line x1="398.2" x2="683.9" y1="542.50" y2="542.50" stroke="#DCDCDC" stroke-width="0.9"/>
<line x1="398.2" x2="683.9" y1="524.05" y2="524.05" stroke="#DCDCDC" stroke-width="0.9"/>
<line x1="398.2" x2="683.9" y1="505.60" y2="505.60" stroke="#DCDCDC" stroke-width="0.9"/>
<line x1="398.2" x2="683.9" y1="487.15" y2="487.15" stroke="#DCDCDC" stroke-width="0.9"/>
<line x1="400.0" x2="400.0" y1="485.3" y2="545.0" stroke="#E0E0E0" stroke-width="0.7"/>
<line x1="465.0" x2="465.0" y1="485.3" y2="545.0" stroke="#E0E0E0" stroke-width="0.7"/>
<line x1="530.0" x2="530.0" y1="485.3" y2="545.0" stroke="#E0E0E0" stroke-width="0.7"/>
<line x1="595.0" x2="595.0" y1="485.3" y2="545.0" stroke="#E0E0E0" stroke-width="0.7"/>
<line x1="660.0" x2="660.0" y1="485.3" y2="545.0" stroke="#E0E0E0" stroke-width="0.7"/>
<line x1="432.5" x2="432.5" y1="485.3" y2="545.0" stroke="#D2D2D2" stroke-width="0.9"/>
<line x1="497.5" x2="497.5" y1="485.3" y2="545.0" stroke="#D2D2D2" stroke-width="0.9"/>
<line x1="562.5" x2="562.5" y1="485.3" y2="545.0" stroke="#D2D2D2" stroke-width="0.9"/>
<line x1="627.5" x2="627.5" y1="485.3" y2="545.0" stroke="#D2D2D2" stroke-width="0.9"/>
<g fill="#D2691E"><circle cx="410.4" cy="529.0" r="2.9"/><circle cx="415.8" cy="527.9" r="2.9"/><circle cx="421.2" cy="526.9" r="2.9"/><circle cx="426.7" cy="525.4" r="2.9"/><circle cx="432.1" cy="523.3" r="2.9"/><circle cx="437.5" cy="521.2" r="2.9"/><circle cx="442.9" cy="519.5" r="2.9"/><circle cx="448.3" cy="518.0" r="2.9"/><circle cx="453.7" cy="517.4" r="2.9"/><circle cx="459.2" cy="517.6" r="2.9"/><circle cx="464.6" cy="517.6" r="2.9"/><circle cx="470.0" cy="518.4" r="2.9"/><circle cx="475.4" cy="518.4" r="2.9"/><circle cx="480.8" cy="519.7" r="2.9"/><circle cx="486.2" cy="520.1" r="2.9"/><circle cx="491.7" cy="517.6" r="2.9"/><circle cx="497.1" cy="515.9" r="2.9"/><circle cx="502.5" cy="513.8" r="2.9"/><circle cx="507.9" cy="513.3" r="2.9"/><circle cx="513.3" cy="512.7" r="2.9"/><circle cx="518.7" cy="511.0" r="2.9"/><circle cx="524.2" cy="510.6" r="2.9"/><circle cx="529.6" cy="510.6" r="2.9"/><circle cx="535.0" cy="511.0" r="2.9"/><circle cx="540.4" cy="511.6" r="2.9"/><circle cx="545.8" cy="514.2" r="2.9"/><circle cx="551.2" cy="514.8" r="2.9"/><circle cx="556.7" cy="515.4" r="2.9"/><circle cx="562.1" cy="515.4" r="2.9"/><circle cx="567.5" cy="514.8" r="2.9"/><circle cx="572.9" cy="514.8" r="2.9"/><circle cx="578.3" cy="515.9" r="2.9"/><circle cx="583.7" cy="514.4" r="2.9"/><circle cx="589.2" cy="518.4" r="2.9"/><circle cx="594.6" cy="519.5" r="2.9"/><circle cx="600.0" cy="520.1" r="2.9"/><circle cx="605.4" cy="526.0" r="2.9"/><circle cx="610.8" cy="525.4" r="2.9"/><circle cx="616.2" cy="529.0" r="2.9"/><circle cx="621.7" cy="529.0" r="2.9"/><circle cx="627.1" cy="528.6" r="2.9"/><circle cx="632.5" cy="532.8" r="2.9"/><circle cx="637.9" cy="525.0" r="2.9"/><circle cx="643.3" cy="525.8" r="2.9"/><circle cx="648.7" cy="528.1" r="2.9"/><circle cx="654.2" cy="522.9" r="2.9"/><circle cx="659.6" cy="524.8" r="2.9"/><circle cx="665.0" cy="520.7" r="2.9"/><circle cx="670.4" cy="519.7" r="2.9"/></g>
<g fill="#4C6CE8"><circle cx="410.4" cy="515.9" r="2.9"/><circle cx="415.8" cy="516.5" r="2.9"/><circle cx="421.2" cy="516.5" r="2.9"/><circle cx="426.7" cy="516.5" r="2.9"/><circle cx="432.1" cy="518.0" r="2.9"/><circle cx="437.5" cy="519.7" r="2.9"/><circle cx="442.9" cy="514.8" r="2.9"/><circle cx="448.3" cy="513.8" r="2.9"/><circle cx="453.7" cy="514.2" r="2.9"/><circle cx="459.2" cy="514.4" r="2.9"/><circle cx="464.6" cy="513.8" r="2.9"/><circle cx="470.0" cy="518.4" r="2.9"/><circle cx="475.4" cy="517.6" r="2.9"/><circle cx="480.8" cy="516.9" r="2.9"/><circle cx="486.2" cy="517.6" r="2.9"/><circle cx="491.7" cy="516.9" r="2.9"/><circle cx="497.1" cy="516.5" r="2.9"/><circle cx="502.5" cy="515.9" r="2.9"/><circle cx="507.9" cy="515.9" r="2.9"/><circle cx="513.3" cy="515.9" r="2.9"/><circle cx="518.7" cy="515.9" r="2.9"/><circle cx="524.2" cy="515.4" r="2.9"/><circle cx="529.6" cy="515.4" r="2.9"/><circle cx="535.0" cy="515.4" r="2.9"/><circle cx="540.4" cy="515.4" r="2.9"/><circle cx="545.8" cy="515.9" r="2.9"/><circle cx="551.2" cy="518.4" r="2.9"/><circle cx="556.7" cy="518.4" r="2.9"/><circle cx="562.1" cy="518.4" r="2.9"/><circle cx="567.5" cy="518.0" r="2.9"/><circle cx="572.9" cy="518.0" r="2.9"/><circle cx="578.3" cy="518.4" r="2.9"/><circle cx="583.7" cy="516.9" r="2.9"/><circle cx="589.2" cy="512.7" r="2.9"/><circle cx="594.6" cy="513.3" r="2.9"/><circle cx="600.0" cy="514.2" r="2.9"/><circle cx="605.4" cy="514.8" r="2.9"/><circle cx="610.8" cy="515.4" r="2.9"/><circle cx="616.2" cy="515.9" r="2.9"/><circle cx="621.7" cy="516.9" r="2.9"/><circle cx="627.1" cy="517.6" r="2.9"/><circle cx="632.5" cy="518.0" r="2.9"/><circle cx="637.9" cy="518.6" r="2.9"/><circle cx="643.3" cy="519.5" r="2.9"/><circle cx="648.7" cy="519.7" r="2.9"/><circle cx="654.2" cy="520.1" r="2.9"/><circle cx="659.6" cy="520.1" r="2.9"/><circle cx="665.0" cy="520.5" r="2.9"/><circle cx="670.4" cy="519.7" r="2.9"/></g>
<g fill="#42F51F"><circle cx="410.4" cy="518.0" r="2.9"/><circle cx="415.8" cy="515.2" r="2.9"/><circle cx="421.2" cy="514.4" r="2.9"/><circle cx="426.7" cy="513.8" r="2.9"/><circle cx="432.1" cy="513.3" r="2.9"/><circle cx="437.5" cy="512.3" r="2.9"/><circle cx="442.9" cy="511.0" r="2.9"/><circle cx="448.3" cy="511.2" r="2.9"/><circle cx="453.7" cy="512.3" r="2.9"/><circle cx="459.2" cy="512.7" r="2.9"/><circle cx="464.6" cy="514.2" r="2.9"/><circle cx="470.0" cy="515.2" r="2.9"/><circle cx="475.4" cy="515.9" r="2.9"/><circle cx="480.8" cy="515.9" r="2.9"/><circle cx="486.2" cy="515.2" r="2.9"/><circle cx="491.7" cy="514.4" r="2.9"/><circle cx="497.1" cy="514.8" r="2.9"/><circle cx="502.5" cy="514.4" r="2.9"/><circle cx="507.9" cy="514.4" r="2.9"/><circle cx="513.3" cy="515.9" r="2.9"/><circle cx="518.7" cy="516.9" r="2.9"/><circle cx="524.2" cy="520.5" r="2.9"/><circle cx="529.6" cy="523.9" r="2.9"/><circle cx="535.0" cy="520.7" r="2.9"/><circle cx="540.4" cy="525.4" r="2.9"/><circle cx="545.8" cy="520.7" r="2.9"/><circle cx="551.2" cy="518.4" r="2.9"/><circle cx="556.7" cy="514.8" r="2.9"/><circle cx="562.1" cy="513.1" r="2.9"/><circle cx="567.5" cy="510.2" r="2.9"/><circle cx="572.9" cy="508.5" r="2.9"/><circle cx="578.3" cy="511.2" r="2.9"/><circle cx="583.7" cy="508.5" r="2.9"/><circle cx="589.2" cy="509.9" r="2.9"/><circle cx="594.6" cy="513.1" r="2.9"/><circle cx="600.0" cy="515.9" r="2.9"/><circle cx="605.4" cy="517.4" r="2.9"/><circle cx="610.8" cy="517.4" r="2.9"/><circle cx="616.2" cy="517.6" r="2.9"/><circle cx="621.7" cy="518.0" r="2.9"/><circle cx="627.1" cy="518.4" r="2.9"/><circle cx="632.5" cy="518.4" r="2.9"/><circle cx="637.9" cy="519.0" r="2.9"/><circle cx="643.3" cy="519.5" r="2.9"/><circle cx="648.7" cy="519.7" r="2.9"/><circle cx="654.2" cy="520.1" r="2.9"/><circle cx="659.6" cy="520.1" r="2.9"/><circle cx="665.0" cy="519.7" r="2.9"/><circle cx="670.4" cy="519.7" r="2.9"/></g>
<rect x="465.0" y="485.3" width="65" height="59.7" fill="#000" fill-opacity="0.1"/>
<rect x="595.0" y="485.3" width="65" height="59.7" fill="#000" fill-opacity="0.1"/>
<rect x="398.2" y="485.3" width="285.7" height="59.7" fill="none" stroke="#333" stroke-width="1"/>
<line x1="393.9" x2="398.2" y1="542.50" y2="542.50" stroke="#333" stroke-width="1"/>
<text x="390.1" y="547.4" text-anchor="end" font-size="12.9" fill="#000" stroke="#000" stroke-width="0.2">0</text>
<line x1="393.9" x2="398.2" y1="524.05" y2="524.05" stroke="#333" stroke-width="1"/>
<text x="390.1" y="528.9" text-anchor="end" font-size="12.9" fill="#000" stroke="#000" stroke-width="0.2">50</text>
<line x1="393.9" x2="398.2" y1="505.60" y2="505.60" stroke="#333" stroke-width="1"/>
<text x="390.1" y="510.5" text-anchor="end" font-size="12.9" fill="#000" stroke="#000" stroke-width="0.2">100</text>
<line x1="393.9" x2="398.2" y1="487.15" y2="487.15" stroke="#333" stroke-width="1"/>
<text x="390.1" y="492.0" text-anchor="end" font-size="12.9" fill="#000" stroke="#000" stroke-width="0.2">150</text>
<rect x="398.2" y="553.6" width="285.7" height="59.3" fill="#fff"/>
<line x1="398.2" x2="683.9" y1="604.05" y2="604.05" stroke="#E2E2E2" stroke-width="0.7"/>
<line x1="398.2" x2="683.9" y1="590.35" y2="590.35" stroke="#E2E2E2" stroke-width="0.7"/>
<line x1="398.2" x2="683.9" y1="576.65" y2="576.65" stroke="#E2E2E2" stroke-width="0.7"/>
<line x1="398.2" x2="683.9" y1="562.95" y2="562.95" stroke="#E2E2E2" stroke-width="0.7"/>
<line x1="398.2" x2="683.9" y1="610.90" y2="610.90" stroke="#DCDCDC" stroke-width="0.9"/>
<line x1="398.2" x2="683.9" y1="597.20" y2="597.20" stroke="#DCDCDC" stroke-width="0.9"/>
<line x1="398.2" x2="683.9" y1="583.50" y2="583.50" stroke="#DCDCDC" stroke-width="0.9"/>
<line x1="398.2" x2="683.9" y1="569.80" y2="569.80" stroke="#DCDCDC" stroke-width="0.9"/>
<line x1="398.2" x2="683.9" y1="556.10" y2="556.10" stroke="#DCDCDC" stroke-width="0.9"/>
<line x1="400.0" x2="400.0" y1="553.6" y2="612.9" stroke="#E0E0E0" stroke-width="0.7"/>
<line x1="465.0" x2="465.0" y1="553.6" y2="612.9" stroke="#E0E0E0" stroke-width="0.7"/>
<line x1="530.0" x2="530.0" y1="553.6" y2="612.9" stroke="#E0E0E0" stroke-width="0.7"/>
<line x1="595.0" x2="595.0" y1="553.6" y2="612.9" stroke="#E0E0E0" stroke-width="0.7"/>
<line x1="660.0" x2="660.0" y1="553.6" y2="612.9" stroke="#E0E0E0" stroke-width="0.7"/>
<line x1="432.5" x2="432.5" y1="553.6" y2="612.9" stroke="#D2D2D2" stroke-width="0.9"/>
<line x1="497.5" x2="497.5" y1="553.6" y2="612.9" stroke="#D2D2D2" stroke-width="0.9"/>
<line x1="562.5" x2="562.5" y1="553.6" y2="612.9" stroke="#D2D2D2" stroke-width="0.9"/>
<line x1="627.5" x2="627.5" y1="553.6" y2="612.9" stroke="#D2D2D2" stroke-width="0.9"/>
<g fill="#D2691E"><circle cx="410.4" cy="599.7" r="2.9"/><circle cx="415.8" cy="601.9" r="2.9"/><circle cx="421.2" cy="602.3" r="2.9"/><circle cx="426.7" cy="602.9" r="2.9"/><circle cx="432.1" cy="601.9" r="2.9"/><circle cx="437.5" cy="600.8" r="2.9"/><circle cx="442.9" cy="599.7" r="2.9"/><circle cx="448.3" cy="598.1" r="2.9"/><circle cx="453.7" cy="598.3" r="2.9"/><circle cx="459.2" cy="598.3" r="2.9"/><circle cx="464.6" cy="595.5" r="2.9"/><circle cx="470.0" cy="597.0" r="2.9"/><circle cx="475.4" cy="599.3" r="2.9"/><circle cx="480.8" cy="601.4" r="2.9"/><circle cx="486.2" cy="600.2" r="2.9"/><circle cx="491.7" cy="588.7" r="2.9"/><circle cx="497.1" cy="584.5" r="2.9"/><circle cx="502.5" cy="579.6" r="2.9"/><circle cx="507.9" cy="576.5" r="2.9"/><circle cx="513.3" cy="573.3" r="2.9"/><circle cx="518.7" cy="571.8" r="2.9"/><circle cx="524.2" cy="573.7" r="2.9"/><circle cx="529.6" cy="574.8" r="2.9"/><circle cx="535.0" cy="576.9" r="2.9"/><circle cx="540.4" cy="572.2" r="2.9"/><circle cx="545.8" cy="571.8" r="2.9"/><circle cx="551.2" cy="571.2" r="2.9"/><circle cx="556.7" cy="579.0" r="2.9"/><circle cx="562.1" cy="578.6" r="2.9"/><circle cx="567.5" cy="575.4" r="2.9"/><circle cx="572.9" cy="572.9" r="2.9"/><circle cx="578.3" cy="569.1" r="2.9"/><circle cx="583.7" cy="571.8" r="2.9"/><circle cx="589.2" cy="563.8" r="2.9"/><circle cx="594.6" cy="563.3" r="2.9"/><circle cx="600.0" cy="569.7" r="2.9"/><circle cx="605.4" cy="572.2" r="2.9"/><circle cx="610.8" cy="565.2" r="2.9"/><circle cx="616.2" cy="563.1" r="2.9"/><circle cx="621.7" cy="559.5" r="2.9"/><circle cx="627.1" cy="561.6" r="2.9"/><circle cx="632.5" cy="555.9" r="2.9"/><circle cx="637.9" cy="558.9" r="2.9"/><circle cx="643.3" cy="564.2" r="2.9"/><circle cx="648.7" cy="576.0" r="2.9"/><circle cx="654.2" cy="575.8" r="2.9"/><circle cx="659.6" cy="581.8" r="2.9"/><circle cx="665.0" cy="592.3" r="2.9"/><circle cx="670.4" cy="586.0" r="2.9"/></g>
<g fill="#4C6CE8"><circle cx="410.4" cy="571.8" r="2.9"/><circle cx="415.8" cy="574.3" r="2.9"/><circle cx="421.2" cy="589.8" r="2.9"/><circle cx="426.7" cy="587.5" r="2.9"/><circle cx="432.1" cy="591.7" r="2.9"/><circle cx="437.5" cy="594.9" r="2.9"/><circle cx="442.9" cy="593.4" r="2.9"/><circle cx="448.3" cy="574.3" r="2.9"/><circle cx="453.7" cy="569.7" r="2.9"/><circle cx="459.2" cy="581.8" r="2.9"/><circle cx="464.6" cy="575.4" r="2.9"/><circle cx="470.0" cy="570.5" r="2.9"/><circle cx="475.4" cy="564.4" r="2.9"/><circle cx="480.8" cy="574.8" r="2.9"/><circle cx="486.2" cy="576.5" r="2.9"/><circle cx="491.7" cy="571.2" r="2.9"/><circle cx="497.1" cy="577.5" r="2.9"/><circle cx="502.5" cy="582.8" r="2.9"/><circle cx="507.9" cy="582.4" r="2.9"/><circle cx="513.3" cy="577.5" r="2.9"/><circle cx="518.7" cy="578.2" r="2.9"/><circle cx="524.2" cy="566.9" r="2.9"/><circle cx="529.6" cy="564.4" r="2.9"/><circle cx="535.0" cy="561.6" r="2.9"/><circle cx="540.4" cy="561.6" r="2.9"/><circle cx="545.8" cy="559.1" r="2.9"/><circle cx="551.2" cy="564.2" r="2.9"/><circle cx="556.7" cy="558.9" r="2.9"/><circle cx="562.1" cy="558.5" r="2.9"/><circle cx="567.5" cy="558.9" r="2.9"/><circle cx="572.9" cy="558.9" r="2.9"/><circle cx="578.3" cy="556.8" r="2.9"/><circle cx="583.7" cy="556.4" r="2.9"/><circle cx="589.2" cy="556.4" r="2.9"/><circle cx="594.6" cy="556.4" r="2.9"/><circle cx="600.0" cy="559.5" r="2.9"/><circle cx="605.4" cy="563.8" r="2.9"/><circle cx="610.8" cy="569.5" r="2.9"/><circle cx="616.2" cy="570.5" r="2.9"/><circle cx="621.7" cy="572.2" r="2.9"/><circle cx="627.1" cy="572.2" r="2.9"/><circle cx="632.5" cy="571.2" r="2.9"/><circle cx="637.9" cy="572.2" r="2.9"/><circle cx="643.3" cy="570.7" r="2.9"/><circle cx="648.7" cy="564.8" r="2.9"/><circle cx="654.2" cy="588.1" r="2.9"/><circle cx="659.6" cy="584.3" r="2.9"/><circle cx="665.0" cy="587.0" r="2.9"/><circle cx="670.4" cy="583.2" r="2.9"/></g>
<g fill="#42F51F"><circle cx="410.4" cy="570.5" r="2.9"/><circle cx="415.8" cy="571.2" r="2.9"/><circle cx="421.2" cy="564.8" r="2.9"/><circle cx="426.7" cy="575.4" r="2.9"/><circle cx="432.1" cy="572.6" r="2.9"/><circle cx="437.5" cy="571.6" r="2.9"/><circle cx="442.9" cy="571.6" r="2.9"/><circle cx="448.3" cy="576.5" r="2.9"/><circle cx="453.7" cy="575.4" r="2.9"/><circle cx="459.2" cy="578.2" r="2.9"/><circle cx="464.6" cy="575.4" r="2.9"/><circle cx="470.0" cy="574.3" r="2.9"/><circle cx="475.4" cy="572.6" r="2.9"/><circle cx="480.8" cy="574.8" r="2.9"/><circle cx="486.2" cy="573.3" r="2.9"/><circle cx="491.7" cy="577.9" r="2.9"/><circle cx="497.1" cy="579.6" r="2.9"/><circle cx="502.5" cy="578.2" r="2.9"/><circle cx="507.9" cy="580.7" r="2.9"/><circle cx="513.3" cy="591.9" r="2.9"/><circle cx="518.7" cy="593.0" r="2.9"/><circle cx="524.2" cy="588.7" r="2.9"/><circle cx="529.6" cy="588.1" r="2.9"/><circle cx="535.0" cy="575.4" r="2.9"/><circle cx="540.4" cy="591.3" r="2.9"/><circle cx="545.8" cy="590.9" r="2.9"/><circle cx="551.2" cy="575.0" r="2.9"/><circle cx="556.7" cy="588.1" r="2.9"/><circle cx="562.1" cy="570.1" r="2.9"/><circle cx="567.5" cy="574.3" r="2.9"/><circle cx="572.9" cy="578.2" r="2.9"/><circle cx="578.3" cy="586.4" r="2.9"/><circle cx="583.7" cy="566.3" r="2.9"/><circle cx="589.2" cy="589.8" r="2.9"/><circle cx="594.6" cy="589.8" r="2.9"/><circle cx="600.0" cy="586.6" r="2.9"/><circle cx="605.4" cy="579.0" r="2.9"/><circle cx="610.8" cy="578.2" r="2.9"/><circle cx="616.2" cy="572.2" r="2.9"/><circle cx="621.7" cy="560.6" r="2.9"/><circle cx="627.1" cy="559.5" r="2.9"/><circle cx="632.5" cy="569.7" r="2.9"/><circle cx="637.9" cy="573.7" r="2.9"/><circle cx="643.3" cy="571.8" r="2.9"/><circle cx="648.7" cy="560.6" r="2.9"/><circle cx="654.2" cy="558.5" r="2.9"/><circle cx="659.6" cy="560.6" r="2.9"/><circle cx="665.0" cy="561.2" r="2.9"/><circle cx="670.4" cy="557.4" r="2.9"/></g>
<rect x="465.0" y="553.6" width="65" height="59.3" fill="#000" fill-opacity="0.1"/>
<rect x="595.0" y="553.6" width="65" height="59.3" fill="#000" fill-opacity="0.1"/>
<rect x="398.2" y="553.6" width="285.7" height="59.3" fill="none" stroke="#333" stroke-width="1"/>
<line x1="393.9" x2="398.2" y1="610.90" y2="610.90" stroke="#333" stroke-width="1"/>
<text x="390.1" y="615.8" text-anchor="end" font-size="12.9" fill="#000" stroke="#000" stroke-width="0.2">0.00</text>
<line x1="393.9" x2="398.2" y1="597.20" y2="597.20" stroke="#333" stroke-width="1"/>
<text x="390.1" y="602.1" text-anchor="end" font-size="12.9" fill="#000" stroke="#000" stroke-width="0.2">0.25</text>
<line x1="393.9" x2="398.2" y1="583.50" y2="583.50" stroke="#333" stroke-width="1"/>
<text x="390.1" y="588.4" text-anchor="end" font-size="12.9" fill="#000" stroke="#000" stroke-width="0.2">0.50</text>
<line x1="393.9" x2="398.2" y1="569.80" y2="569.80" stroke="#333" stroke-width="1"/>
<text x="390.1" y="574.7" text-anchor="end" font-size="12.9" fill="#000" stroke="#000" stroke-width="0.2">0.75</text>
<line x1="393.9" x2="398.2" y1="556.10" y2="556.10" stroke="#333" stroke-width="1"/>
<text x="390.1" y="561.0" text-anchor="end" font-size="12.9" fill="#000" stroke="#000" stroke-width="0.2">1.00</text>
<line x1="432.5" x2="432.5" y1="612.9" y2="617.4" stroke="#333" stroke-width="1"/>
<text x="432.5" y="630.0" text-anchor="middle" font-size="13.0" fill="#000" stroke="#000" stroke-width="0.2">Oct 26</text>
<text x="432.5" y="644.2" text-anchor="middle" font-size="13.0" fill="#000" stroke="#000" stroke-width="0.2">12:00</text>
<line x1="497.5" x2="497.5" y1="612.9" y2="617.4" stroke="#333" stroke-width="1"/>
<text x="497.5" y="630.0" text-anchor="middle" font-size="13.0" fill="#000" stroke="#000" stroke-width="0.2">Oct 27</text>
<text x="497.5" y="644.2" text-anchor="middle" font-size="13.0" fill="#000" stroke="#000" stroke-width="0.2">00:00</text>
<line x1="562.5" x2="562.5" y1="612.9" y2="617.4" stroke="#333" stroke-width="1"/>
<text x="562.5" y="630.0" text-anchor="middle" font-size="13.0" fill="#000" stroke="#000" stroke-width="0.2">Oct 27</text>
<text x="562.5" y="644.2" text-anchor="middle" font-size="13.0" fill="#000" stroke="#000" stroke-width="0.2">12:00</text>
<line x1="627.5" x2="627.5" y1="612.9" y2="617.4" stroke="#333" stroke-width="1"/>
<text x="627.5" y="630.0" text-anchor="middle" font-size="13.0" fill="#000" stroke="#000" stroke-width="0.2">Oct 28</text>
<text x="627.5" y="644.2" text-anchor="middle" font-size="13.0" fill="#000" stroke="#000" stroke-width="0.2">00:00</text>
</svg>
</body></html>
